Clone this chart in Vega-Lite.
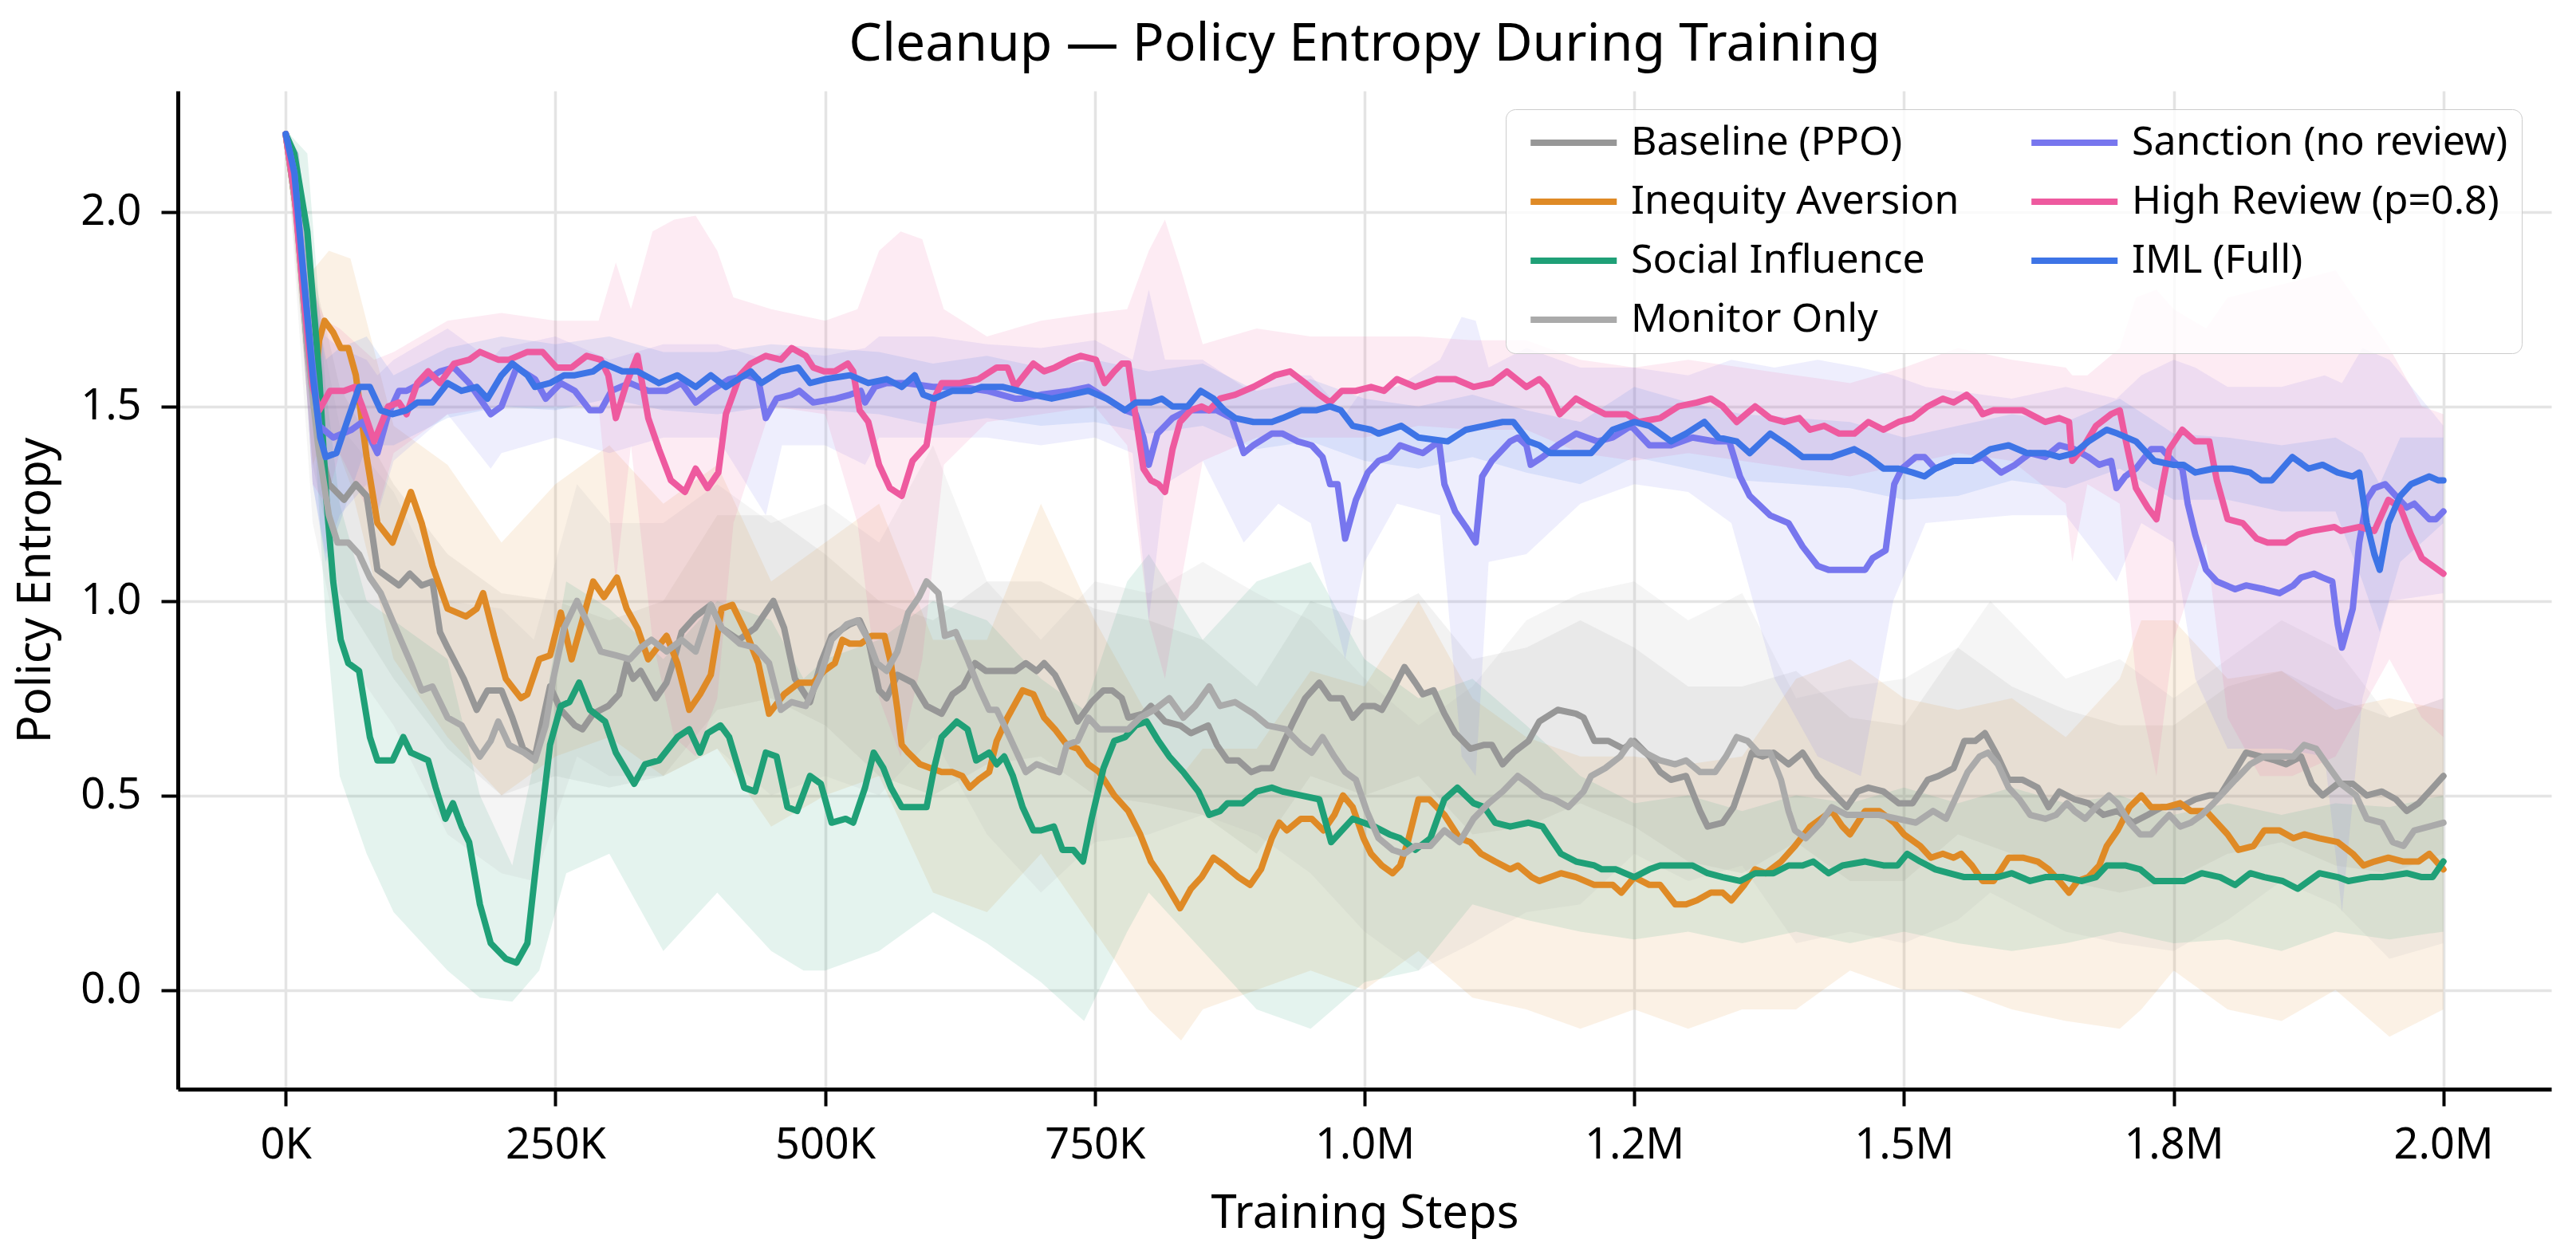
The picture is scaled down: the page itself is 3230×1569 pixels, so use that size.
{
  "$schema": "https://vega.github.io/schema/vega-lite/v6.json",
  "width": 2976,
  "height": 1252,
  "autosize": {"type": "none"},
  "padding": {"left": 223, "top": 114, "right": 31, "bottom": 203},
  "background": "white",
  "title": {"text": "Cleanup — Policy Entropy During Training", "font": "Noto Sans", "fontSize": 66, "fontWeight": "normal", "color": "black", "anchor": "middle", "frame": "group", "offset": 24},
  "config": {
    "font": "Noto Sans",
    "view": {"stroke": null},
    "axis": {
      "labelFont": "Noto Sans", "labelFontSize": 54, "labelColor": "black",
      "titleFont": "Noto Sans", "titleFontSize": 58, "titleFontWeight": "normal", "titleColor": "black",
      "domainColor": "black", "domainWidth": 5, "tickColor": "black", "tickWidth": 4, "tickSize": 21,
      "gridColor": "#e4e4e4", "gridWidth": 3.5
    },
    "legend": {
      "labelFont": "Noto Sans", "labelFontSize": 50, "labelColor": "black", "labelLimit": 0
    }
  },
  "datasets": {
    "lines": [
      {"s":"Baseline (PPO)","x":0,"y":2.2},{"s":"Baseline (PPO)","x":10,"y":2.0},{"s":"Baseline (PPO)","x":20,"y":1.65},{"s":"Baseline (PPO)","x":30,"y":1.42},{"s":"Baseline (PPO)","x":40,"y":1.3},{"s":"Baseline (PPO)","x":54,"y":1.26},{"s":"Baseline (PPO)","x":65,"y":1.3},{"s":"Baseline (PPO)","x":75,"y":1.27},{"s":"Baseline (PPO)","x":85,"y":1.08},{"s":"Baseline (PPO)","x":95,"y":1.06},{"s":"Baseline (PPO)","x":105,"y":1.04},{"s":"Baseline (PPO)","x":115,"y":1.07},{"s":"Baseline (PPO)","x":126,"y":1.04},{"s":"Baseline (PPO)","x":136,"y":1.05},{"s":"Baseline (PPO)","x":143,"y":0.92},{"s":"Baseline (PPO)","x":150,"y":0.88},{"s":"Baseline (PPO)","x":165,"y":0.8},{"s":"Baseline (PPO)","x":177,"y":0.72},{"s":"Baseline (PPO)","x":187,"y":0.77},{"s":"Baseline (PPO)","x":200,"y":0.77},{"s":"Baseline (PPO)","x":210,"y":0.7},{"s":"Baseline (PPO)","x":220,"y":0.62},{"s":"Baseline (PPO)","x":231,"y":0.6},{"s":"Baseline (PPO)","x":245,"y":0.78},{"s":"Baseline (PPO)","x":255,"y":0.72},{"s":"Baseline (PPO)","x":268,"y":0.68},{"s":"Baseline (PPO)","x":275,"y":0.67},{"s":"Baseline (PPO)","x":285,"y":0.71},{"s":"Baseline (PPO)","x":299,"y":0.73},{"s":"Baseline (PPO)","x":309,"y":0.76},{"s":"Baseline (PPO)","x":316,"y":0.84},{"s":"Baseline (PPO)","x":322,"y":0.8},{"s":"Baseline (PPO)","x":329,"y":0.82},{"s":"Baseline (PPO)","x":343,"y":0.75},{"s":"Baseline (PPO)","x":353,"y":0.79},{"s":"Baseline (PPO)","x":360,"y":0.85},{"s":"Baseline (PPO)","x":367,"y":0.92},{"s":"Baseline (PPO)","x":380,"y":0.96},{"s":"Baseline (PPO)","x":394,"y":0.99},{"s":"Baseline (PPO)","x":404,"y":0.93},{"s":"Baseline (PPO)","x":420,"y":0.9},{"s":"Baseline (PPO)","x":435,"y":0.93},{"s":"Baseline (PPO)","x":452,"y":1.0},{"s":"Baseline (PPO)","x":462,"y":0.93},{"s":"Baseline (PPO)","x":472,"y":0.8},{"s":"Baseline (PPO)","x":486,"y":0.74},{"s":"Baseline (PPO)","x":496,"y":0.84},{"s":"Baseline (PPO)","x":506,"y":0.91},{"s":"Baseline (PPO)","x":523,"y":0.94},{"s":"Baseline (PPO)","x":532,"y":0.95},{"s":"Baseline (PPO)","x":540,"y":0.9},{"s":"Baseline (PPO)","x":550,"y":0.77},{"s":"Baseline (PPO)","x":557,"y":0.75},{"s":"Baseline (PPO)","x":567,"y":0.81},{"s":"Baseline (PPO)","x":581,"y":0.79},{"s":"Baseline (PPO)","x":594,"y":0.73},{"s":"Baseline (PPO)","x":608,"y":0.71},{"s":"Baseline (PPO)","x":618,"y":0.76},{"s":"Baseline (PPO)","x":628,"y":0.78},{"s":"Baseline (PPO)","x":639,"y":0.84},{"s":"Baseline (PPO)","x":649,"y":0.82},{"s":"Baseline (PPO)","x":666,"y":0.82},{"s":"Baseline (PPO)","x":676,"y":0.82},{"s":"Baseline (PPO)","x":686,"y":0.84},{"s":"Baseline (PPO)","x":696,"y":0.82},{"s":"Baseline (PPO)","x":703,"y":0.84},{"s":"Baseline (PPO)","x":713,"y":0.81},{"s":"Baseline (PPO)","x":724,"y":0.75},{"s":"Baseline (PPO)","x":734,"y":0.69},{"s":"Baseline (PPO)","x":747,"y":0.74},{"s":"Baseline (PPO)","x":758,"y":0.77},{"s":"Baseline (PPO)","x":766,"y":0.77},{"s":"Baseline (PPO)","x":775,"y":0.75},{"s":"Baseline (PPO)","x":781,"y":0.7},{"s":"Baseline (PPO)","x":795,"y":0.71},{"s":"Baseline (PPO)","x":802,"y":0.73},{"s":"Baseline (PPO)","x":815,"y":0.69},{"s":"Baseline (PPO)","x":829,"y":0.68},{"s":"Baseline (PPO)","x":839,"y":0.66},{"s":"Baseline (PPO)","x":855,"y":0.68},{"s":"Baseline (PPO)","x":863,"y":0.63},{"s":"Baseline (PPO)","x":873,"y":0.59},{"s":"Baseline (PPO)","x":883,"y":0.59},{"s":"Baseline (PPO)","x":895,"y":0.56},{"s":"Baseline (PPO)","x":904,"y":0.57},{"s":"Baseline (PPO)","x":914,"y":0.57},{"s":"Baseline (PPO)","x":924,"y":0.63},{"s":"Baseline (PPO)","x":934,"y":0.69},{"s":"Baseline (PPO)","x":945,"y":0.75},{"s":"Baseline (PPO)","x":958,"y":0.79},{"s":"Baseline (PPO)","x":968,"y":0.75},{"s":"Baseline (PPO)","x":979,"y":0.75},{"s":"Baseline (PPO)","x":989,"y":0.7},{"s":"Baseline (PPO)","x":999,"y":0.73},{"s":"Baseline (PPO)","x":1009,"y":0.73},{"s":"Baseline (PPO)","x":1016,"y":0.72},{"s":"Baseline (PPO)","x":1026,"y":0.77},{"s":"Baseline (PPO)","x":1037,"y":0.83},{"s":"Baseline (PPO)","x":1047,"y":0.79},{"s":"Baseline (PPO)","x":1054,"y":0.76},{"s":"Baseline (PPO)","x":1064,"y":0.77},{"s":"Baseline (PPO)","x":1074,"y":0.71},{"s":"Baseline (PPO)","x":1084,"y":0.66},{"s":"Baseline (PPO)","x":1098,"y":0.62},{"s":"Baseline (PPO)","x":1111,"y":0.63},{"s":"Baseline (PPO)","x":1118,"y":0.63},{"s":"Baseline (PPO)","x":1128,"y":0.58},{"s":"Baseline (PPO)","x":1138,"y":0.61},{"s":"Baseline (PPO)","x":1152,"y":0.64},{"s":"Baseline (PPO)","x":1162,"y":0.69},{"s":"Baseline (PPO)","x":1179,"y":0.72},{"s":"Baseline (PPO)","x":1196,"y":0.71},{"s":"Baseline (PPO)","x":1203,"y":0.7},{"s":"Baseline (PPO)","x":1213,"y":0.64},{"s":"Baseline (PPO)","x":1226,"y":0.64},{"s":"Baseline (PPO)","x":1240,"y":0.62},{"s":"Baseline (PPO)","x":1250,"y":0.64},{"s":"Baseline (PPO)","x":1264,"y":0.6},{"s":"Baseline (PPO)","x":1274,"y":0.56},{"s":"Baseline (PPO)","x":1284,"y":0.54},{"s":"Baseline (PPO)","x":1298,"y":0.55},{"s":"Baseline (PPO)","x":1311,"y":0.46},{"s":"Baseline (PPO)","x":1318,"y":0.42},{"s":"Baseline (PPO)","x":1332,"y":0.43},{"s":"Baseline (PPO)","x":1342,"y":0.47},{"s":"Baseline (PPO)","x":1352,"y":0.55},{"s":"Baseline (PPO)","x":1359,"y":0.61},{"s":"Baseline (PPO)","x":1369,"y":0.6},{"s":"Baseline (PPO)","x":1379,"y":0.61},{"s":"Baseline (PPO)","x":1393,"y":0.58},{"s":"Baseline (PPO)","x":1406,"y":0.61},{"s":"Baseline (PPO)","x":1420,"y":0.55},{"s":"Baseline (PPO)","x":1433,"y":0.51},{"s":"Baseline (PPO)","x":1447,"y":0.47},{"s":"Baseline (PPO)","x":1457,"y":0.51},{"s":"Baseline (PPO)","x":1467,"y":0.52},{"s":"Baseline (PPO)","x":1481,"y":0.51},{"s":"Baseline (PPO)","x":1495,"y":0.48},{"s":"Baseline (PPO)","x":1508,"y":0.48},{"s":"Baseline (PPO)","x":1522,"y":0.54},{"s":"Baseline (PPO)","x":1532,"y":0.55},{"s":"Baseline (PPO)","x":1546,"y":0.57},{"s":"Baseline (PPO)","x":1556,"y":0.64},{"s":"Baseline (PPO)","x":1566,"y":0.64},{"s":"Baseline (PPO)","x":1575,"y":0.66},{"s":"Baseline (PPO)","x":1587,"y":0.6},{"s":"Baseline (PPO)","x":1597,"y":0.54},{"s":"Baseline (PPO)","x":1610,"y":0.54},{"s":"Baseline (PPO)","x":1624,"y":0.52},{"s":"Baseline (PPO)","x":1634,"y":0.47},{"s":"Baseline (PPO)","x":1644,"y":0.51},{"s":"Baseline (PPO)","x":1658,"y":0.49},{"s":"Baseline (PPO)","x":1671,"y":0.48},{"s":"Baseline (PPO)","x":1685,"y":0.45},{"s":"Baseline (PPO)","x":1698,"y":0.46},{"s":"Baseline (PPO)","x":1712,"y":0.43},{"s":"Baseline (PPO)","x":1726,"y":0.45},{"s":"Baseline (PPO)","x":1739,"y":0.47},{"s":"Baseline (PPO)","x":1756,"y":0.47},{"s":"Baseline (PPO)","x":1770,"y":0.49},{"s":"Baseline (PPO)","x":1783,"y":0.5},{"s":"Baseline (PPO)","x":1793,"y":0.5},{"s":"Baseline (PPO)","x":1804,"y":0.55},{"s":"Baseline (PPO)","x":1817,"y":0.61},{"s":"Baseline (PPO)","x":1831,"y":0.6},{"s":"Baseline (PPO)","x":1844,"y":0.59},{"s":"Baseline (PPO)","x":1854,"y":0.58},{"s":"Baseline (PPO)","x":1868,"y":0.6},{"s":"Baseline (PPO)","x":1878,"y":0.53},{"s":"Baseline (PPO)","x":1888,"y":0.5},{"s":"Baseline (PPO)","x":1902,"y":0.53},{"s":"Baseline (PPO)","x":1916,"y":0.53},{"s":"Baseline (PPO)","x":1929,"y":0.5},{"s":"Baseline (PPO)","x":1943,"y":0.51},{"s":"Baseline (PPO)","x":1956,"y":0.49},{"s":"Baseline (PPO)","x":1966,"y":0.46},{"s":"Baseline (PPO)","x":1977,"y":0.48},{"s":"Baseline (PPO)","x":1987,"y":0.51},{"s":"Baseline (PPO)","x":2000,"y":0.55},

      {"s":"Inequity Aversion","x":0,"y":2.2},{"s":"Inequity Aversion","x":10,"y":2.0},{"s":"Inequity Aversion","x":20,"y":1.7},{"s":"Inequity Aversion","x":27,"y":1.55},{"s":"Inequity Aversion","x":31,"y":1.67},{"s":"Inequity Aversion","x":36,"y":1.72},{"s":"Inequity Aversion","x":44,"y":1.69},{"s":"Inequity Aversion","x":51,"y":1.65},{"s":"Inequity Aversion","x":58,"y":1.65},{"s":"Inequity Aversion","x":65,"y":1.58},{"s":"Inequity Aversion","x":75,"y":1.37},{"s":"Inequity Aversion","x":85,"y":1.2},{"s":"Inequity Aversion","x":99,"y":1.15},{"s":"Inequity Aversion","x":116,"y":1.28},{"s":"Inequity Aversion","x":126,"y":1.2},{"s":"Inequity Aversion","x":136,"y":1.09},{"s":"Inequity Aversion","x":150,"y":0.98},{"s":"Inequity Aversion","x":167,"y":0.96},{"s":"Inequity Aversion","x":177,"y":0.98},{"s":"Inequity Aversion","x":183,"y":1.02},{"s":"Inequity Aversion","x":193,"y":0.91},{"s":"Inequity Aversion","x":204,"y":0.8},{"s":"Inequity Aversion","x":218,"y":0.75},{"s":"Inequity Aversion","x":224,"y":0.76},{"s":"Inequity Aversion","x":235,"y":0.85},{"s":"Inequity Aversion","x":245,"y":0.86},{"s":"Inequity Aversion","x":255,"y":0.97},{"s":"Inequity Aversion","x":265,"y":0.85},{"s":"Inequity Aversion","x":275,"y":0.95},{"s":"Inequity Aversion","x":285,"y":1.05},{"s":"Inequity Aversion","x":295,"y":1.01},{"s":"Inequity Aversion","x":307,"y":1.06},{"s":"Inequity Aversion","x":316,"y":0.98},{"s":"Inequity Aversion","x":326,"y":0.93},{"s":"Inequity Aversion","x":336,"y":0.85},{"s":"Inequity Aversion","x":353,"y":0.91},{"s":"Inequity Aversion","x":363,"y":0.84},{"s":"Inequity Aversion","x":374,"y":0.72},{"s":"Inequity Aversion","x":384,"y":0.76},{"s":"Inequity Aversion","x":394,"y":0.81},{"s":"Inequity Aversion","x":404,"y":0.98},{"s":"Inequity Aversion","x":414,"y":0.99},{"s":"Inequity Aversion","x":428,"y":0.91},{"s":"Inequity Aversion","x":438,"y":0.84},{"s":"Inequity Aversion","x":448,"y":0.71},{"s":"Inequity Aversion","x":462,"y":0.76},{"s":"Inequity Aversion","x":476,"y":0.79},{"s":"Inequity Aversion","x":489,"y":0.79},{"s":"Inequity Aversion","x":499,"y":0.82},{"s":"Inequity Aversion","x":509,"y":0.84},{"s":"Inequity Aversion","x":516,"y":0.9},{"s":"Inequity Aversion","x":523,"y":0.89},{"s":"Inequity Aversion","x":533,"y":0.89},{"s":"Inequity Aversion","x":543,"y":0.91},{"s":"Inequity Aversion","x":555,"y":0.91},{"s":"Inequity Aversion","x":561,"y":0.84},{"s":"Inequity Aversion","x":567,"y":0.72},{"s":"Inequity Aversion","x":571,"y":0.63},{"s":"Inequity Aversion","x":577,"y":0.61},{"s":"Inequity Aversion","x":588,"y":0.58},{"s":"Inequity Aversion","x":598,"y":0.57},{"s":"Inequity Aversion","x":608,"y":0.56},{"s":"Inequity Aversion","x":618,"y":0.56},{"s":"Inequity Aversion","x":627,"y":0.55},{"s":"Inequity Aversion","x":634,"y":0.52},{"s":"Inequity Aversion","x":642,"y":0.54},{"s":"Inequity Aversion","x":652,"y":0.56},{"s":"Inequity Aversion","x":659,"y":0.64},{"s":"Inequity Aversion","x":669,"y":0.7},{"s":"Inequity Aversion","x":683,"y":0.77},{"s":"Inequity Aversion","x":693,"y":0.76},{"s":"Inequity Aversion","x":703,"y":0.7},{"s":"Inequity Aversion","x":713,"y":0.67},{"s":"Inequity Aversion","x":724,"y":0.63},{"s":"Inequity Aversion","x":734,"y":0.62},{"s":"Inequity Aversion","x":744,"y":0.58},{"s":"Inequity Aversion","x":754,"y":0.56},{"s":"Inequity Aversion","x":768,"y":0.5},{"s":"Inequity Aversion","x":781,"y":0.46},{"s":"Inequity Aversion","x":792,"y":0.4},{"s":"Inequity Aversion","x":802,"y":0.33},{"s":"Inequity Aversion","x":812,"y":0.29},{"s":"Inequity Aversion","x":829,"y":0.21},{"s":"Inequity Aversion","x":839,"y":0.26},{"s":"Inequity Aversion","x":849,"y":0.29},{"s":"Inequity Aversion","x":860,"y":0.34},{"s":"Inequity Aversion","x":870,"y":0.32},{"s":"Inequity Aversion","x":883,"y":0.29},{"s":"Inequity Aversion","x":894,"y":0.27},{"s":"Inequity Aversion","x":904,"y":0.31},{"s":"Inequity Aversion","x":914,"y":0.39},{"s":"Inequity Aversion","x":921,"y":0.43},{"s":"Inequity Aversion","x":928,"y":0.41},{"s":"Inequity Aversion","x":941,"y":0.44},{"s":"Inequity Aversion","x":951,"y":0.44},{"s":"Inequity Aversion","x":962,"y":0.41},{"s":"Inequity Aversion","x":972,"y":0.45},{"s":"Inequity Aversion","x":980,"y":0.5},{"s":"Inequity Aversion","x":989,"y":0.47},{"s":"Inequity Aversion","x":999,"y":0.39},{"s":"Inequity Aversion","x":1006,"y":0.35},{"s":"Inequity Aversion","x":1016,"y":0.32},{"s":"Inequity Aversion","x":1026,"y":0.3},{"s":"Inequity Aversion","x":1033,"y":0.32},{"s":"Inequity Aversion","x":1040,"y":0.38},{"s":"Inequity Aversion","x":1050,"y":0.49},{"s":"Inequity Aversion","x":1060,"y":0.49},{"s":"Inequity Aversion","x":1074,"y":0.45},{"s":"Inequity Aversion","x":1088,"y":0.39},{"s":"Inequity Aversion","x":1098,"y":0.38},{"s":"Inequity Aversion","x":1108,"y":0.35},{"s":"Inequity Aversion","x":1121,"y":0.33},{"s":"Inequity Aversion","x":1135,"y":0.31},{"s":"Inequity Aversion","x":1142,"y":0.32},{"s":"Inequity Aversion","x":1155,"y":0.29},{"s":"Inequity Aversion","x":1162,"y":0.28},{"s":"Inequity Aversion","x":1182,"y":0.3},{"s":"Inequity Aversion","x":1196,"y":0.29},{"s":"Inequity Aversion","x":1213,"y":0.27},{"s":"Inequity Aversion","x":1230,"y":0.27},{"s":"Inequity Aversion","x":1238,"y":0.25},{"s":"Inequity Aversion","x":1250,"y":0.29},{"s":"Inequity Aversion","x":1264,"y":0.27},{"s":"Inequity Aversion","x":1274,"y":0.27},{"s":"Inequity Aversion","x":1288,"y":0.22},{"s":"Inequity Aversion","x":1298,"y":0.22},{"s":"Inequity Aversion","x":1308,"y":0.23},{"s":"Inequity Aversion","x":1321,"y":0.25},{"s":"Inequity Aversion","x":1332,"y":0.25},{"s":"Inequity Aversion","x":1340,"y":0.23},{"s":"Inequity Aversion","x":1352,"y":0.27},{"s":"Inequity Aversion","x":1362,"y":0.31},{"s":"Inequity Aversion","x":1372,"y":0.3},{"s":"Inequity Aversion","x":1386,"y":0.33},{"s":"Inequity Aversion","x":1399,"y":0.37},{"s":"Inequity Aversion","x":1413,"y":0.42},{"s":"Inequity Aversion","x":1433,"y":0.46},{"s":"Inequity Aversion","x":1443,"y":0.42},{"s":"Inequity Aversion","x":1450,"y":0.4},{"s":"Inequity Aversion","x":1464,"y":0.46},{"s":"Inequity Aversion","x":1477,"y":0.46},{"s":"Inequity Aversion","x":1491,"y":0.43},{"s":"Inequity Aversion","x":1500,"y":0.4},{"s":"Inequity Aversion","x":1515,"y":0.37},{"s":"Inequity Aversion","x":1525,"y":0.34},{"s":"Inequity Aversion","x":1536,"y":0.35},{"s":"Inequity Aversion","x":1546,"y":0.34},{"s":"Inequity Aversion","x":1553,"y":0.35},{"s":"Inequity Aversion","x":1563,"y":0.32},{"s":"Inequity Aversion","x":1573,"y":0.28},{"s":"Inequity Aversion","x":1583,"y":0.28},{"s":"Inequity Aversion","x":1590,"y":0.31},{"s":"Inequity Aversion","x":1597,"y":0.34},{"s":"Inequity Aversion","x":1610,"y":0.34},{"s":"Inequity Aversion","x":1624,"y":0.33},{"s":"Inequity Aversion","x":1634,"y":0.31},{"s":"Inequity Aversion","x":1644,"y":0.28},{"s":"Inequity Aversion","x":1653,"y":0.25},{"s":"Inequity Aversion","x":1661,"y":0.28},{"s":"Inequity Aversion","x":1671,"y":0.29},{"s":"Inequity Aversion","x":1681,"y":0.32},{"s":"Inequity Aversion","x":1688,"y":0.37},{"s":"Inequity Aversion","x":1698,"y":0.41},{"s":"Inequity Aversion","x":1709,"y":0.47},{"s":"Inequity Aversion","x":1720,"y":0.5},{"s":"Inequity Aversion","x":1729,"y":0.47},{"s":"Inequity Aversion","x":1743,"y":0.47},{"s":"Inequity Aversion","x":1756,"y":0.48},{"s":"Inequity Aversion","x":1766,"y":0.46},{"s":"Inequity Aversion","x":1780,"y":0.46},{"s":"Inequity Aversion","x":1790,"y":0.43},{"s":"Inequity Aversion","x":1800,"y":0.4},{"s":"Inequity Aversion","x":1810,"y":0.36},{"s":"Inequity Aversion","x":1824,"y":0.37},{"s":"Inequity Aversion","x":1834,"y":0.41},{"s":"Inequity Aversion","x":1848,"y":0.41},{"s":"Inequity Aversion","x":1861,"y":0.39},{"s":"Inequity Aversion","x":1871,"y":0.4},{"s":"Inequity Aversion","x":1885,"y":0.39},{"s":"Inequity Aversion","x":1902,"y":0.38},{"s":"Inequity Aversion","x":1916,"y":0.35},{"s":"Inequity Aversion","x":1926,"y":0.32},{"s":"Inequity Aversion","x":1936,"y":0.33},{"s":"Inequity Aversion","x":1949,"y":0.34},{"s":"Inequity Aversion","x":1963,"y":0.33},{"s":"Inequity Aversion","x":1977,"y":0.33},{"s":"Inequity Aversion","x":1987,"y":0.35},{"s":"Inequity Aversion","x":2000,"y":0.31},

      {"s":"Social Influence","x":0,"y":2.2},{"s":"Social Influence","x":8,"y":2.15},{"s":"Social Influence","x":20,"y":1.95},{"s":"Social Influence","x":31,"y":1.58},{"s":"Social Influence","x":38,"y":1.25},{"s":"Social Influence","x":44,"y":1.05},{"s":"Social Influence","x":51,"y":0.9},{"s":"Social Influence","x":58,"y":0.84},{"s":"Social Influence","x":68,"y":0.82},{"s":"Social Influence","x":78,"y":0.65},{"s":"Social Influence","x":85,"y":0.59},{"s":"Social Influence","x":99,"y":0.59},{"s":"Social Influence","x":109,"y":0.65},{"s":"Social Influence","x":116,"y":0.61},{"s":"Social Influence","x":132,"y":0.59},{"s":"Social Influence","x":139,"y":0.52},{"s":"Social Influence","x":148,"y":0.44},{"s":"Social Influence","x":155,"y":0.48},{"s":"Social Influence","x":163,"y":0.42},{"s":"Social Influence","x":170,"y":0.38},{"s":"Social Influence","x":180,"y":0.22},{"s":"Social Influence","x":190,"y":0.12},{"s":"Social Influence","x":204,"y":0.08},{"s":"Social Influence","x":214,"y":0.07},{"s":"Social Influence","x":224,"y":0.12},{"s":"Social Influence","x":234,"y":0.37},{"s":"Social Influence","x":245,"y":0.63},{"s":"Social Influence","x":255,"y":0.73},{"s":"Social Influence","x":263,"y":0.74},{"s":"Social Influence","x":272,"y":0.79},{"s":"Social Influence","x":282,"y":0.72},{"s":"Social Influence","x":296,"y":0.69},{"s":"Social Influence","x":306,"y":0.61},{"s":"Social Influence","x":323,"y":0.53},{"s":"Social Influence","x":333,"y":0.58},{"s":"Social Influence","x":346,"y":0.59},{"s":"Social Influence","x":363,"y":0.65},{"s":"Social Influence","x":374,"y":0.67},{"s":"Social Influence","x":384,"y":0.61},{"s":"Social Influence","x":391,"y":0.66},{"s":"Social Influence","x":403,"y":0.68},{"s":"Social Influence","x":411,"y":0.65},{"s":"Social Influence","x":425,"y":0.52},{"s":"Social Influence","x":435,"y":0.51},{"s":"Social Influence","x":445,"y":0.61},{"s":"Social Influence","x":455,"y":0.6},{"s":"Social Influence","x":465,"y":0.47},{"s":"Social Influence","x":474,"y":0.46},{"s":"Social Influence","x":486,"y":0.55},{"s":"Social Influence","x":496,"y":0.53},{"s":"Social Influence","x":506,"y":0.43},{"s":"Social Influence","x":519,"y":0.44},{"s":"Social Influence","x":526,"y":0.43},{"s":"Social Influence","x":537,"y":0.52},{"s":"Social Influence","x":545,"y":0.61},{"s":"Social Influence","x":554,"y":0.57},{"s":"Social Influence","x":561,"y":0.52},{"s":"Social Influence","x":571,"y":0.47},{"s":"Social Influence","x":581,"y":0.47},{"s":"Social Influence","x":594,"y":0.47},{"s":"Social Influence","x":601,"y":0.57},{"s":"Social Influence","x":608,"y":0.65},{"s":"Social Influence","x":615,"y":0.67},{"s":"Social Influence","x":622,"y":0.69},{"s":"Social Influence","x":632,"y":0.67},{"s":"Social Influence","x":640,"y":0.59},{"s":"Social Influence","x":652,"y":0.61},{"s":"Social Influence","x":659,"y":0.58},{"s":"Social Influence","x":666,"y":0.6},{"s":"Social Influence","x":674,"y":0.55},{"s":"Social Influence","x":683,"y":0.47},{"s":"Social Influence","x":693,"y":0.41},{"s":"Social Influence","x":700,"y":0.41},{"s":"Social Influence","x":712,"y":0.42},{"s":"Social Influence","x":720,"y":0.36},{"s":"Social Influence","x":730,"y":0.36},{"s":"Social Influence","x":739,"y":0.33},{"s":"Social Influence","x":747,"y":0.44},{"s":"Social Influence","x":758,"y":0.57},{"s":"Social Influence","x":768,"y":0.64},{"s":"Social Influence","x":778,"y":0.65},{"s":"Social Influence","x":788,"y":0.68},{"s":"Social Influence","x":798,"y":0.69},{"s":"Social Influence","x":809,"y":0.64},{"s":"Social Influence","x":819,"y":0.6},{"s":"Social Influence","x":832,"y":0.56},{"s":"Social Influence","x":846,"y":0.51},{"s":"Social Influence","x":856,"y":0.45},{"s":"Social Influence","x":866,"y":0.46},{"s":"Social Influence","x":873,"y":0.48},{"s":"Social Influence","x":887,"y":0.48},{"s":"Social Influence","x":900,"y":0.51},{"s":"Social Influence","x":914,"y":0.52},{"s":"Social Influence","x":924,"y":0.51},{"s":"Social Influence","x":941,"y":0.5},{"s":"Social Influence","x":958,"y":0.49},{"s":"Social Influence","x":969,"y":0.38},{"s":"Social Influence","x":979,"y":0.41},{"s":"Social Influence","x":989,"y":0.44},{"s":"Social Influence","x":999,"y":0.43},{"s":"Social Influence","x":1009,"y":0.42},{"s":"Social Influence","x":1023,"y":0.4},{"s":"Social Influence","x":1033,"y":0.39},{"s":"Social Influence","x":1047,"y":0.36},{"s":"Social Influence","x":1061,"y":0.39},{"s":"Social Influence","x":1074,"y":0.49},{"s":"Social Influence","x":1086,"y":0.52},{"s":"Social Influence","x":1101,"y":0.48},{"s":"Social Influence","x":1111,"y":0.47},{"s":"Social Influence","x":1121,"y":0.43},{"s":"Social Influence","x":1135,"y":0.42},{"s":"Social Influence","x":1152,"y":0.43},{"s":"Social Influence","x":1165,"y":0.42},{"s":"Social Influence","x":1182,"y":0.35},{"s":"Social Influence","x":1196,"y":0.33},{"s":"Social Influence","x":1213,"y":0.32},{"s":"Social Influence","x":1220,"y":0.31},{"s":"Social Influence","x":1233,"y":0.31},{"s":"Social Influence","x":1250,"y":0.29},{"s":"Social Influence","x":1264,"y":0.31},{"s":"Social Influence","x":1274,"y":0.32},{"s":"Social Influence","x":1291,"y":0.32},{"s":"Social Influence","x":1304,"y":0.32},{"s":"Social Influence","x":1318,"y":0.3},{"s":"Social Influence","x":1332,"y":0.29},{"s":"Social Influence","x":1348,"y":0.28},{"s":"Social Influence","x":1362,"y":0.3},{"s":"Social Influence","x":1379,"y":0.3},{"s":"Social Influence","x":1393,"y":0.32},{"s":"Social Influence","x":1406,"y":0.32},{"s":"Social Influence","x":1416,"y":0.33},{"s":"Social Influence","x":1430,"y":0.3},{"s":"Social Influence","x":1443,"y":0.32},{"s":"Social Influence","x":1464,"y":0.33},{"s":"Social Influence","x":1481,"y":0.32},{"s":"Social Influence","x":1494,"y":0.32},{"s":"Social Influence","x":1503,"y":0.35},{"s":"Social Influence","x":1515,"y":0.33},{"s":"Social Influence","x":1529,"y":0.31},{"s":"Social Influence","x":1542,"y":0.3},{"s":"Social Influence","x":1556,"y":0.29},{"s":"Social Influence","x":1573,"y":0.29},{"s":"Social Influence","x":1587,"y":0.29},{"s":"Social Influence","x":1600,"y":0.3},{"s":"Social Influence","x":1617,"y":0.28},{"s":"Social Influence","x":1631,"y":0.29},{"s":"Social Influence","x":1648,"y":0.29},{"s":"Social Influence","x":1665,"y":0.28},{"s":"Social Influence","x":1678,"y":0.29},{"s":"Social Influence","x":1688,"y":0.32},{"s":"Social Influence","x":1705,"y":0.32},{"s":"Social Influence","x":1719,"y":0.31},{"s":"Social Influence","x":1732,"y":0.28},{"s":"Social Influence","x":1746,"y":0.28},{"s":"Social Influence","x":1760,"y":0.28},{"s":"Social Influence","x":1776,"y":0.3},{"s":"Social Influence","x":1793,"y":0.29},{"s":"Social Influence","x":1807,"y":0.27},{"s":"Social Influence","x":1821,"y":0.3},{"s":"Social Influence","x":1834,"y":0.29},{"s":"Social Influence","x":1851,"y":0.28},{"s":"Social Influence","x":1865,"y":0.26},{"s":"Social Influence","x":1885,"y":0.3},{"s":"Social Influence","x":1902,"y":0.29},{"s":"Social Influence","x":1912,"y":0.28},{"s":"Social Influence","x":1932,"y":0.29},{"s":"Social Influence","x":1943,"y":0.29},{"s":"Social Influence","x":1966,"y":0.3},{"s":"Social Influence","x":1980,"y":0.29},{"s":"Social Influence","x":1990,"y":0.29},{"s":"Social Influence","x":2000,"y":0.33},

      {"s":"Monitor Only","x":0,"y":2.2},{"s":"Monitor Only","x":10,"y":2.0},{"s":"Monitor Only","x":20,"y":1.65},{"s":"Monitor Only","x":30,"y":1.4},{"s":"Monitor Only","x":40,"y":1.22},{"s":"Monitor Only","x":48,"y":1.15},{"s":"Monitor Only","x":58,"y":1.15},{"s":"Monitor Only","x":68,"y":1.12},{"s":"Monitor Only","x":78,"y":1.06},{"s":"Monitor Only","x":88,"y":1.02},{"s":"Monitor Only","x":105,"y":0.91},{"s":"Monitor Only","x":116,"y":0.84},{"s":"Monitor Only","x":126,"y":0.77},{"s":"Monitor Only","x":136,"y":0.78},{"s":"Monitor Only","x":150,"y":0.7},{"s":"Monitor Only","x":163,"y":0.68},{"s":"Monitor Only","x":173,"y":0.63},{"s":"Monitor Only","x":180,"y":0.6},{"s":"Monitor Only","x":190,"y":0.64},{"s":"Monitor Only","x":197,"y":0.69},{"s":"Monitor Only","x":207,"y":0.63},{"s":"Monitor Only","x":221,"y":0.61},{"s":"Monitor Only","x":231,"y":0.59},{"s":"Monitor Only","x":241,"y":0.68},{"s":"Monitor Only","x":248,"y":0.8},{"s":"Monitor Only","x":258,"y":0.93},{"s":"Monitor Only","x":270,"y":1.0},{"s":"Monitor Only","x":282,"y":0.93},{"s":"Monitor Only","x":292,"y":0.87},{"s":"Monitor Only","x":306,"y":0.86},{"s":"Monitor Only","x":319,"y":0.85},{"s":"Monitor Only","x":329,"y":0.88},{"s":"Monitor Only","x":339,"y":0.9},{"s":"Monitor Only","x":353,"y":0.87},{"s":"Monitor Only","x":367,"y":0.9},{"s":"Monitor Only","x":380,"y":0.87},{"s":"Monitor Only","x":394,"y":0.99},{"s":"Monitor Only","x":404,"y":0.93},{"s":"Monitor Only","x":421,"y":0.89},{"s":"Monitor Only","x":435,"y":0.88},{"s":"Monitor Only","x":448,"y":0.84},{"s":"Monitor Only","x":459,"y":0.72},{"s":"Monitor Only","x":469,"y":0.74},{"s":"Monitor Only","x":482,"y":0.73},{"s":"Monitor Only","x":496,"y":0.81},{"s":"Monitor Only","x":506,"y":0.9},{"s":"Monitor Only","x":520,"y":0.94},{"s":"Monitor Only","x":530,"y":0.95},{"s":"Monitor Only","x":540,"y":0.9},{"s":"Monitor Only","x":548,"y":0.84},{"s":"Monitor Only","x":557,"y":0.82},{"s":"Monitor Only","x":567,"y":0.87},{"s":"Monitor Only","x":577,"y":0.97},{"s":"Monitor Only","x":587,"y":1.01},{"s":"Monitor Only","x":594,"y":1.05},{"s":"Monitor Only","x":605,"y":1.02},{"s":"Monitor Only","x":611,"y":0.91},{"s":"Monitor Only","x":621,"y":0.92},{"s":"Monitor Only","x":632,"y":0.85},{"s":"Monitor Only","x":642,"y":0.78},{"s":"Monitor Only","x":652,"y":0.72},{"s":"Monitor Only","x":659,"y":0.72},{"s":"Monitor Only","x":666,"y":0.68},{"s":"Monitor Only","x":676,"y":0.62},{"s":"Monitor Only","x":686,"y":0.56},{"s":"Monitor Only","x":696,"y":0.58},{"s":"Monitor Only","x":706,"y":0.57},{"s":"Monitor Only","x":717,"y":0.56},{"s":"Monitor Only","x":724,"y":0.63},{"s":"Monitor Only","x":734,"y":0.64},{"s":"Monitor Only","x":744,"y":0.7},{"s":"Monitor Only","x":754,"y":0.67},{"s":"Monitor Only","x":768,"y":0.67},{"s":"Monitor Only","x":781,"y":0.67},{"s":"Monitor Only","x":792,"y":0.7},{"s":"Monitor Only","x":805,"y":0.72},{"s":"Monitor Only","x":819,"y":0.75},{"s":"Monitor Only","x":832,"y":0.7},{"s":"Monitor Only","x":843,"y":0.73},{"s":"Monitor Only","x":856,"y":0.78},{"s":"Monitor Only","x":866,"y":0.73},{"s":"Monitor Only","x":880,"y":0.74},{"s":"Monitor Only","x":897,"y":0.71},{"s":"Monitor Only","x":910,"y":0.68},{"s":"Monitor Only","x":927,"y":0.67},{"s":"Monitor Only","x":941,"y":0.63},{"s":"Monitor Only","x":951,"y":0.61},{"s":"Monitor Only","x":961,"y":0.65},{"s":"Monitor Only","x":972,"y":0.6},{"s":"Monitor Only","x":982,"y":0.56},{"s":"Monitor Only","x":992,"y":0.54},{"s":"Monitor Only","x":1002,"y":0.46},{"s":"Monitor Only","x":1013,"y":0.39},{"s":"Monitor Only","x":1026,"y":0.36},{"s":"Monitor Only","x":1037,"y":0.35},{"s":"Monitor Only","x":1047,"y":0.37},{"s":"Monitor Only","x":1061,"y":0.37},{"s":"Monitor Only","x":1074,"y":0.41},{"s":"Monitor Only","x":1088,"y":0.38},{"s":"Monitor Only","x":1101,"y":0.44},{"s":"Monitor Only","x":1115,"y":0.48},{"s":"Monitor Only","x":1128,"y":0.51},{"s":"Monitor Only","x":1142,"y":0.55},{"s":"Monitor Only","x":1152,"y":0.53},{"s":"Monitor Only","x":1165,"y":0.5},{"s":"Monitor Only","x":1176,"y":0.49},{"s":"Monitor Only","x":1189,"y":0.47},{"s":"Monitor Only","x":1203,"y":0.51},{"s":"Monitor Only","x":1210,"y":0.55},{"s":"Monitor Only","x":1223,"y":0.57},{"s":"Monitor Only","x":1237,"y":0.6},{"s":"Monitor Only","x":1247,"y":0.64},{"s":"Monitor Only","x":1260,"y":0.61},{"s":"Monitor Only","x":1274,"y":0.59},{"s":"Monitor Only","x":1288,"y":0.58},{"s":"Monitor Only","x":1298,"y":0.59},{"s":"Monitor Only","x":1311,"y":0.56},{"s":"Monitor Only","x":1325,"y":0.56},{"s":"Monitor Only","x":1335,"y":0.6},{"s":"Monitor Only","x":1345,"y":0.65},{"s":"Monitor Only","x":1355,"y":0.64},{"s":"Monitor Only","x":1365,"y":0.61},{"s":"Monitor Only","x":1376,"y":0.61},{"s":"Monitor Only","x":1386,"y":0.54},{"s":"Monitor Only","x":1393,"y":0.46},{"s":"Monitor Only","x":1399,"y":0.41},{"s":"Monitor Only","x":1409,"y":0.39},{"s":"Monitor Only","x":1423,"y":0.43},{"s":"Monitor Only","x":1433,"y":0.47},{"s":"Monitor Only","x":1447,"y":0.45},{"s":"Monitor Only","x":1464,"y":0.45},{"s":"Monitor Only","x":1477,"y":0.45},{"s":"Monitor Only","x":1494,"y":0.44},{"s":"Monitor Only","x":1511,"y":0.43},{"s":"Monitor Only","x":1527,"y":0.46},{"s":"Monitor Only","x":1539,"y":0.44},{"s":"Monitor Only","x":1549,"y":0.5},{"s":"Monitor Only","x":1559,"y":0.56},{"s":"Monitor Only","x":1570,"y":0.6},{"s":"Monitor Only","x":1578,"y":0.61},{"s":"Monitor Only","x":1587,"y":0.58},{"s":"Monitor Only","x":1597,"y":0.52},{"s":"Monitor Only","x":1607,"y":0.49},{"s":"Monitor Only","x":1617,"y":0.45},{"s":"Monitor Only","x":1631,"y":0.44},{"s":"Monitor Only","x":1641,"y":0.45},{"s":"Monitor Only","x":1651,"y":0.48},{"s":"Monitor Only","x":1658,"y":0.46},{"s":"Monitor Only","x":1668,"y":0.44},{"s":"Monitor Only","x":1678,"y":0.47},{"s":"Monitor Only","x":1690,"y":0.5},{"s":"Monitor Only","x":1698,"y":0.48},{"s":"Monitor Only","x":1709,"y":0.43},{"s":"Monitor Only","x":1719,"y":0.4},{"s":"Monitor Only","x":1729,"y":0.4},{"s":"Monitor Only","x":1739,"y":0.43},{"s":"Monitor Only","x":1746,"y":0.45},{"s":"Monitor Only","x":1756,"y":0.42},{"s":"Monitor Only","x":1766,"y":0.43},{"s":"Monitor Only","x":1776,"y":0.45},{"s":"Monitor Only","x":1787,"y":0.48},{"s":"Monitor Only","x":1797,"y":0.51},{"s":"Monitor Only","x":1807,"y":0.54},{"s":"Monitor Only","x":1821,"y":0.58},{"s":"Monitor Only","x":1834,"y":0.6},{"s":"Monitor Only","x":1848,"y":0.6},{"s":"Monitor Only","x":1861,"y":0.6},{"s":"Monitor Only","x":1871,"y":0.63},{"s":"Monitor Only","x":1882,"y":0.62},{"s":"Monitor Only","x":1892,"y":0.58},{"s":"Monitor Only","x":1905,"y":0.53},{"s":"Monitor Only","x":1919,"y":0.5},{"s":"Monitor Only","x":1929,"y":0.44},{"s":"Monitor Only","x":1943,"y":0.43},{"s":"Monitor Only","x":1953,"y":0.38},{"s":"Monitor Only","x":1963,"y":0.37},{"s":"Monitor Only","x":1973,"y":0.41},{"s":"Monitor Only","x":1987,"y":0.42},{"s":"Monitor Only","x":2000,"y":0.43},

      {"s":"Sanction (no review)","x":0,"y":2.2},{"s":"Sanction (no review)","x":8,"y":2.1},{"s":"Sanction (no review)","x":16,"y":1.85},{"s":"Sanction (no review)","x":25,"y":1.6},{"s":"Sanction (no review)","x":31,"y":1.45},{"s":"Sanction (no review)","x":44,"y":1.42},{"s":"Sanction (no review)","x":61,"y":1.44},{"s":"Sanction (no review)","x":71,"y":1.46},{"s":"Sanction (no review)","x":85,"y":1.38},{"s":"Sanction (no review)","x":95,"y":1.48},{"s":"Sanction (no review)","x":105,"y":1.54},{"s":"Sanction (no review)","x":112,"y":1.54},{"s":"Sanction (no review)","x":126,"y":1.56},{"s":"Sanction (no review)","x":143,"y":1.59},{"s":"Sanction (no review)","x":156,"y":1.6},{"s":"Sanction (no review)","x":170,"y":1.56},{"s":"Sanction (no review)","x":190,"y":1.48},{"s":"Sanction (no review)","x":200,"y":1.5},{"s":"Sanction (no review)","x":214,"y":1.6},{"s":"Sanction (no review)","x":231,"y":1.57},{"s":"Sanction (no review)","x":241,"y":1.52},{"s":"Sanction (no review)","x":255,"y":1.56},{"s":"Sanction (no review)","x":268,"y":1.54},{"s":"Sanction (no review)","x":282,"y":1.49},{"s":"Sanction (no review)","x":292,"y":1.49},{"s":"Sanction (no review)","x":302,"y":1.54},{"s":"Sanction (no review)","x":319,"y":1.56},{"s":"Sanction (no review)","x":336,"y":1.54},{"s":"Sanction (no review)","x":353,"y":1.54},{"s":"Sanction (no review)","x":367,"y":1.56},{"s":"Sanction (no review)","x":380,"y":1.51},{"s":"Sanction (no review)","x":394,"y":1.54},{"s":"Sanction (no review)","x":411,"y":1.57},{"s":"Sanction (no review)","x":428,"y":1.58},{"s":"Sanction (no review)","x":438,"y":1.57},{"s":"Sanction (no review)","x":445,"y":1.47},{"s":"Sanction (no review)","x":455,"y":1.52},{"s":"Sanction (no review)","x":469,"y":1.53},{"s":"Sanction (no review)","x":476,"y":1.54},{"s":"Sanction (no review)","x":489,"y":1.51},{"s":"Sanction (no review)","x":510,"y":1.52},{"s":"Sanction (no review)","x":523,"y":1.53},{"s":"Sanction (no review)","x":533,"y":1.54},{"s":"Sanction (no review)","x":537,"y":1.51},{"s":"Sanction (no review)","x":546,"y":1.55},{"s":"Sanction (no review)","x":557,"y":1.56},{"s":"Sanction (no review)","x":575,"y":1.56},{"s":"Sanction (no review)","x":600,"y":1.55},{"s":"Sanction (no review)","x":625,"y":1.55},{"s":"Sanction (no review)","x":650,"y":1.54},{"s":"Sanction (no review)","x":676,"y":1.52},{"s":"Sanction (no review)","x":683,"y":1.52},{"s":"Sanction (no review)","x":700,"y":1.53},{"s":"Sanction (no review)","x":727,"y":1.54},{"s":"Sanction (no review)","x":744,"y":1.55},{"s":"Sanction (no review)","x":761,"y":1.52},{"s":"Sanction (no review)","x":778,"y":1.49},{"s":"Sanction (no review)","x":788,"y":1.48},{"s":"Sanction (no review)","x":795,"y":1.42},{"s":"Sanction (no review)","x":800,"y":1.35},{"s":"Sanction (no review)","x":808,"y":1.43},{"s":"Sanction (no review)","x":822,"y":1.47},{"s":"Sanction (no review)","x":836,"y":1.49},{"s":"Sanction (no review)","x":850,"y":1.49},{"s":"Sanction (no review)","x":863,"y":1.49},{"s":"Sanction (no review)","x":877,"y":1.47},{"s":"Sanction (no review)","x":888,"y":1.38},{"s":"Sanction (no review)","x":897,"y":1.4},{"s":"Sanction (no review)","x":914,"y":1.43},{"s":"Sanction (no review)","x":924,"y":1.43},{"s":"Sanction (no review)","x":938,"y":1.41},{"s":"Sanction (no review)","x":951,"y":1.4},{"s":"Sanction (no review)","x":961,"y":1.37},{"s":"Sanction (no review)","x":968,"y":1.3},{"s":"Sanction (no review)","x":975,"y":1.3},{"s":"Sanction (no review)","x":982,"y":1.16},{"s":"Sanction (no review)","x":992,"y":1.26},{"s":"Sanction (no review)","x":1003,"y":1.33},{"s":"Sanction (no review)","x":1013,"y":1.36},{"s":"Sanction (no review)","x":1023,"y":1.37},{"s":"Sanction (no review)","x":1033,"y":1.4},{"s":"Sanction (no review)","x":1043,"y":1.39},{"s":"Sanction (no review)","x":1054,"y":1.38},{"s":"Sanction (no review)","x":1069,"y":1.41},{"s":"Sanction (no review)","x":1074,"y":1.3},{"s":"Sanction (no review)","x":1084,"y":1.23},{"s":"Sanction (no review)","x":1094,"y":1.19},{"s":"Sanction (no review)","x":1103,"y":1.15},{"s":"Sanction (no review)","x":1109,"y":1.32},{"s":"Sanction (no review)","x":1118,"y":1.36},{"s":"Sanction (no review)","x":1135,"y":1.41},{"s":"Sanction (no review)","x":1142,"y":1.42},{"s":"Sanction (no review)","x":1150,"y":1.4},{"s":"Sanction (no review)","x":1154,"y":1.35},{"s":"Sanction (no review)","x":1165,"y":1.37},{"s":"Sanction (no review)","x":1179,"y":1.4},{"s":"Sanction (no review)","x":1196,"y":1.43},{"s":"Sanction (no review)","x":1206,"y":1.42},{"s":"Sanction (no review)","x":1216,"y":1.41},{"s":"Sanction (no review)","x":1230,"y":1.42},{"s":"Sanction (no review)","x":1247,"y":1.45},{"s":"Sanction (no review)","x":1264,"y":1.4},{"s":"Sanction (no review)","x":1284,"y":1.4},{"s":"Sanction (no review)","x":1304,"y":1.42},{"s":"Sanction (no review)","x":1325,"y":1.41},{"s":"Sanction (no review)","x":1338,"y":1.41},{"s":"Sanction (no review)","x":1348,"y":1.32},{"s":"Sanction (no review)","x":1357,"y":1.27},{"s":"Sanction (no review)","x":1376,"y":1.22},{"s":"Sanction (no review)","x":1393,"y":1.2},{"s":"Sanction (no review)","x":1406,"y":1.14},{"s":"Sanction (no review)","x":1420,"y":1.09},{"s":"Sanction (no review)","x":1430,"y":1.08},{"s":"Sanction (no review)","x":1447,"y":1.08},{"s":"Sanction (no review)","x":1464,"y":1.08},{"s":"Sanction (no review)","x":1471,"y":1.11},{"s":"Sanction (no review)","x":1483,"y":1.13},{"s":"Sanction (no review)","x":1491,"y":1.3},{"s":"Sanction (no review)","x":1498,"y":1.34},{"s":"Sanction (no review)","x":1511,"y":1.37},{"s":"Sanction (no review)","x":1519,"y":1.37},{"s":"Sanction (no review)","x":1529,"y":1.34},{"s":"Sanction (no review)","x":1546,"y":1.36},{"s":"Sanction (no review)","x":1563,"y":1.36},{"s":"Sanction (no review)","x":1573,"y":1.37},{"s":"Sanction (no review)","x":1590,"y":1.33},{"s":"Sanction (no review)","x":1603,"y":1.35},{"s":"Sanction (no review)","x":1617,"y":1.38},{"s":"Sanction (no review)","x":1631,"y":1.37},{"s":"Sanction (no review)","x":1644,"y":1.4},{"s":"Sanction (no review)","x":1658,"y":1.39},{"s":"Sanction (no review)","x":1671,"y":1.37},{"s":"Sanction (no review)","x":1681,"y":1.35},{"s":"Sanction (no review)","x":1692,"y":1.36},{"s":"Sanction (no review)","x":1697,"y":1.29},{"s":"Sanction (no review)","x":1705,"y":1.32},{"s":"Sanction (no review)","x":1715,"y":1.34},{"s":"Sanction (no review)","x":1729,"y":1.39},{"s":"Sanction (no review)","x":1739,"y":1.39},{"s":"Sanction (no review)","x":1749,"y":1.36},{"s":"Sanction (no review)","x":1758,"y":1.34},{"s":"Sanction (no review)","x":1763,"y":1.25},{"s":"Sanction (no review)","x":1770,"y":1.17},{"s":"Sanction (no review)","x":1780,"y":1.08},{"s":"Sanction (no review)","x":1790,"y":1.05},{"s":"Sanction (no review)","x":1807,"y":1.03},{"s":"Sanction (no review)","x":1817,"y":1.04},{"s":"Sanction (no review)","x":1834,"y":1.03},{"s":"Sanction (no review)","x":1848,"y":1.02},{"s":"Sanction (no review)","x":1861,"y":1.04},{"s":"Sanction (no review)","x":1868,"y":1.06},{"s":"Sanction (no review)","x":1880,"y":1.07},{"s":"Sanction (no review)","x":1888,"y":1.06},{"s":"Sanction (no review)","x":1897,"y":1.05},{"s":"Sanction (no review)","x":1902,"y":0.94},{"s":"Sanction (no review)","x":1906,"y":0.88},{"s":"Sanction (no review)","x":1916,"y":0.98},{"s":"Sanction (no review)","x":1922,"y":1.15},{"s":"Sanction (no review)","x":1929,"y":1.26},{"s":"Sanction (no review)","x":1936,"y":1.29},{"s":"Sanction (no review)","x":1946,"y":1.3},{"s":"Sanction (no review)","x":1956,"y":1.27},{"s":"Sanction (no review)","x":1966,"y":1.24},{"s":"Sanction (no review)","x":1973,"y":1.25},{"s":"Sanction (no review)","x":1987,"y":1.21},{"s":"Sanction (no review)","x":1993,"y":1.21},{"s":"Sanction (no review)","x":2000,"y":1.23},

      {"s":"High Review (p=0.8)","x":0,"y":2.2},{"s":"High Review (p=0.8)","x":8,"y":2.05},{"s":"High Review (p=0.8)","x":16,"y":1.8},{"s":"High Review (p=0.8)","x":25,"y":1.55},{"s":"High Review (p=0.8)","x":31,"y":1.49},{"s":"High Review (p=0.8)","x":41,"y":1.54},{"s":"High Review (p=0.8)","x":54,"y":1.54},{"s":"High Review (p=0.8)","x":64,"y":1.55},{"s":"High Review (p=0.8)","x":71,"y":1.5},{"s":"High Review (p=0.8)","x":82,"y":1.41},{"s":"High Review (p=0.8)","x":95,"y":1.5},{"s":"High Review (p=0.8)","x":105,"y":1.51},{"s":"High Review (p=0.8)","x":112,"y":1.48},{"s":"High Review (p=0.8)","x":122,"y":1.56},{"s":"High Review (p=0.8)","x":132,"y":1.59},{"s":"High Review (p=0.8)","x":143,"y":1.56},{"s":"High Review (p=0.8)","x":156,"y":1.61},{"s":"High Review (p=0.8)","x":170,"y":1.62},{"s":"High Review (p=0.8)","x":180,"y":1.64},{"s":"High Review (p=0.8)","x":197,"y":1.62},{"s":"High Review (p=0.8)","x":207,"y":1.62},{"s":"High Review (p=0.8)","x":224,"y":1.64},{"s":"High Review (p=0.8)","x":238,"y":1.64},{"s":"High Review (p=0.8)","x":251,"y":1.6},{"s":"High Review (p=0.8)","x":265,"y":1.6},{"s":"High Review (p=0.8)","x":279,"y":1.63},{"s":"High Review (p=0.8)","x":292,"y":1.62},{"s":"High Review (p=0.8)","x":299,"y":1.58},{"s":"High Review (p=0.8)","x":306,"y":1.47},{"s":"High Review (p=0.8)","x":316,"y":1.56},{"s":"High Review (p=0.8)","x":326,"y":1.63},{"s":"High Review (p=0.8)","x":336,"y":1.47},{"s":"High Review (p=0.8)","x":346,"y":1.39},{"s":"High Review (p=0.8)","x":357,"y":1.31},{"s":"High Review (p=0.8)","x":370,"y":1.28},{"s":"High Review (p=0.8)","x":380,"y":1.34},{"s":"High Review (p=0.8)","x":391,"y":1.29},{"s":"High Review (p=0.8)","x":401,"y":1.33},{"s":"High Review (p=0.8)","x":408,"y":1.48},{"s":"High Review (p=0.8)","x":421,"y":1.58},{"s":"High Review (p=0.8)","x":431,"y":1.61},{"s":"High Review (p=0.8)","x":445,"y":1.63},{"s":"High Review (p=0.8)","x":459,"y":1.62},{"s":"High Review (p=0.8)","x":469,"y":1.65},{"s":"High Review (p=0.8)","x":482,"y":1.63},{"s":"High Review (p=0.8)","x":489,"y":1.6},{"s":"High Review (p=0.8)","x":499,"y":1.59},{"s":"High Review (p=0.8)","x":509,"y":1.59},{"s":"High Review (p=0.8)","x":521,"y":1.61},{"s":"High Review (p=0.8)","x":526,"y":1.59},{"s":"High Review (p=0.8)","x":532,"y":1.49},{"s":"High Review (p=0.8)","x":540,"y":1.46},{"s":"High Review (p=0.8)","x":550,"y":1.35},{"s":"High Review (p=0.8)","x":560,"y":1.29},{"s":"High Review (p=0.8)","x":571,"y":1.27},{"s":"High Review (p=0.8)","x":581,"y":1.36},{"s":"High Review (p=0.8)","x":594,"y":1.4},{"s":"High Review (p=0.8)","x":601,"y":1.52},{"s":"High Review (p=0.8)","x":608,"y":1.56},{"s":"High Review (p=0.8)","x":625,"y":1.56},{"s":"High Review (p=0.8)","x":642,"y":1.57},{"s":"High Review (p=0.8)","x":659,"y":1.6},{"s":"High Review (p=0.8)","x":669,"y":1.6},{"s":"High Review (p=0.8)","x":676,"y":1.55},{"s":"High Review (p=0.8)","x":693,"y":1.61},{"s":"High Review (p=0.8)","x":703,"y":1.59},{"s":"High Review (p=0.8)","x":713,"y":1.6},{"s":"High Review (p=0.8)","x":727,"y":1.62},{"s":"High Review (p=0.8)","x":737,"y":1.63},{"s":"High Review (p=0.8)","x":751,"y":1.62},{"s":"High Review (p=0.8)","x":759,"y":1.56},{"s":"High Review (p=0.8)","x":768,"y":1.59},{"s":"High Review (p=0.8)","x":775,"y":1.61},{"s":"High Review (p=0.8)","x":781,"y":1.61},{"s":"High Review (p=0.8)","x":788,"y":1.47},{"s":"High Review (p=0.8)","x":795,"y":1.34},{"s":"High Review (p=0.8)","x":802,"y":1.31},{"s":"High Review (p=0.8)","x":809,"y":1.3},{"s":"High Review (p=0.8)","x":815,"y":1.28},{"s":"High Review (p=0.8)","x":822,"y":1.39},{"s":"High Review (p=0.8)","x":829,"y":1.46},{"s":"High Review (p=0.8)","x":839,"y":1.49},{"s":"High Review (p=0.8)","x":849,"y":1.5},{"s":"High Review (p=0.8)","x":856,"y":1.49},{"s":"High Review (p=0.8)","x":866,"y":1.52},{"s":"High Review (p=0.8)","x":880,"y":1.53},{"s":"High Review (p=0.8)","x":897,"y":1.55},{"s":"High Review (p=0.8)","x":917,"y":1.58},{"s":"High Review (p=0.8)","x":931,"y":1.59},{"s":"High Review (p=0.8)","x":945,"y":1.56},{"s":"High Review (p=0.8)","x":958,"y":1.53},{"s":"High Review (p=0.8)","x":968,"y":1.51},{"s":"High Review (p=0.8)","x":979,"y":1.54},{"s":"High Review (p=0.8)","x":992,"y":1.54},{"s":"High Review (p=0.8)","x":1006,"y":1.55},{"s":"High Review (p=0.8)","x":1018,"y":1.54},{"s":"High Review (p=0.8)","x":1030,"y":1.57},{"s":"High Review (p=0.8)","x":1047,"y":1.55},{"s":"High Review (p=0.8)","x":1067,"y":1.57},{"s":"High Review (p=0.8)","x":1084,"y":1.57},{"s":"High Review (p=0.8)","x":1101,"y":1.55},{"s":"High Review (p=0.8)","x":1118,"y":1.56},{"s":"High Review (p=0.8)","x":1132,"y":1.59},{"s":"High Review (p=0.8)","x":1150,"y":1.55},{"s":"High Review (p=0.8)","x":1162,"y":1.57},{"s":"High Review (p=0.8)","x":1169,"y":1.55},{"s":"High Review (p=0.8)","x":1181,"y":1.48},{"s":"High Review (p=0.8)","x":1196,"y":1.52},{"s":"High Review (p=0.8)","x":1209,"y":1.5},{"s":"High Review (p=0.8)","x":1223,"y":1.48},{"s":"High Review (p=0.8)","x":1243,"y":1.48},{"s":"High Review (p=0.8)","x":1254,"y":1.46},{"s":"High Review (p=0.8)","x":1274,"y":1.47},{"s":"High Review (p=0.8)","x":1291,"y":1.5},{"s":"High Review (p=0.8)","x":1308,"y":1.51},{"s":"High Review (p=0.8)","x":1321,"y":1.52},{"s":"High Review (p=0.8)","x":1332,"y":1.5},{"s":"High Review (p=0.8)","x":1345,"y":1.46},{"s":"High Review (p=0.8)","x":1362,"y":1.5},{"s":"High Review (p=0.8)","x":1376,"y":1.47},{"s":"High Review (p=0.8)","x":1389,"y":1.46},{"s":"High Review (p=0.8)","x":1403,"y":1.47},{"s":"High Review (p=0.8)","x":1413,"y":1.44},{"s":"High Review (p=0.8)","x":1426,"y":1.45},{"s":"High Review (p=0.8)","x":1440,"y":1.43},{"s":"High Review (p=0.8)","x":1454,"y":1.43},{"s":"High Review (p=0.8)","x":1467,"y":1.46},{"s":"High Review (p=0.8)","x":1481,"y":1.44},{"s":"High Review (p=0.8)","x":1495,"y":1.46},{"s":"High Review (p=0.8)","x":1508,"y":1.47},{"s":"High Review (p=0.8)","x":1522,"y":1.5},{"s":"High Review (p=0.8)","x":1536,"y":1.52},{"s":"High Review (p=0.8)","x":1546,"y":1.51},{"s":"High Review (p=0.8)","x":1558,"y":1.53},{"s":"High Review (p=0.8)","x":1566,"y":1.51},{"s":"High Review (p=0.8)","x":1573,"y":1.48},{"s":"High Review (p=0.8)","x":1583,"y":1.49},{"s":"High Review (p=0.8)","x":1597,"y":1.49},{"s":"High Review (p=0.8)","x":1610,"y":1.49},{"s":"High Review (p=0.8)","x":1624,"y":1.47},{"s":"High Review (p=0.8)","x":1631,"y":1.46},{"s":"High Review (p=0.8)","x":1644,"y":1.47},{"s":"High Review (p=0.8)","x":1653,"y":1.46},{"s":"High Review (p=0.8)","x":1656,"y":1.36},{"s":"High Review (p=0.8)","x":1665,"y":1.39},{"s":"High Review (p=0.8)","x":1678,"y":1.45},{"s":"High Review (p=0.8)","x":1692,"y":1.48},{"s":"High Review (p=0.8)","x":1700,"y":1.49},{"s":"High Review (p=0.8)","x":1705,"y":1.42},{"s":"High Review (p=0.8)","x":1715,"y":1.29},{"s":"High Review (p=0.8)","x":1726,"y":1.24},{"s":"High Review (p=0.8)","x":1734,"y":1.21},{"s":"High Review (p=0.8)","x":1739,"y":1.29},{"s":"High Review (p=0.8)","x":1746,"y":1.39},{"s":"High Review (p=0.8)","x":1758,"y":1.44},{"s":"High Review (p=0.8)","x":1770,"y":1.41},{"s":"High Review (p=0.8)","x":1783,"y":1.41},{"s":"High Review (p=0.8)","x":1790,"y":1.31},{"s":"High Review (p=0.8)","x":1800,"y":1.21},{"s":"High Review (p=0.8)","x":1814,"y":1.2},{"s":"High Review (p=0.8)","x":1827,"y":1.16},{"s":"High Review (p=0.8)","x":1837,"y":1.15},{"s":"High Review (p=0.8)","x":1848,"y":1.15},{"s":"High Review (p=0.8)","x":1854,"y":1.15},{"s":"High Review (p=0.8)","x":1865,"y":1.17},{"s":"High Review (p=0.8)","x":1878,"y":1.18},{"s":"High Review (p=0.8)","x":1899,"y":1.19},{"s":"High Review (p=0.8)","x":1905,"y":1.18},{"s":"High Review (p=0.8)","x":1922,"y":1.19},{"s":"High Review (p=0.8)","x":1936,"y":1.18},{"s":"High Review (p=0.8)","x":1949,"y":1.26},{"s":"High Review (p=0.8)","x":1960,"y":1.24},{"s":"High Review (p=0.8)","x":1970,"y":1.17},{"s":"High Review (p=0.8)","x":1980,"y":1.11},{"s":"High Review (p=0.8)","x":1990,"y":1.09},{"s":"High Review (p=0.8)","x":2000,"y":1.07},

      {"s":"IML (Full)","x":0,"y":2.2},{"s":"IML (Full)","x":8,"y":2.1},{"s":"IML (Full)","x":16,"y":1.85},{"s":"IML (Full)","x":25,"y":1.58},{"s":"IML (Full)","x":32,"y":1.42},{"s":"IML (Full)","x":37,"y":1.37},{"s":"IML (Full)","x":47,"y":1.38},{"s":"IML (Full)","x":58,"y":1.47},{"s":"IML (Full)","x":68,"y":1.55},{"s":"IML (Full)","x":78,"y":1.55},{"s":"IML (Full)","x":88,"y":1.49},{"s":"IML (Full)","x":99,"y":1.48},{"s":"IML (Full)","x":112,"y":1.49},{"s":"IML (Full)","x":122,"y":1.51},{"s":"IML (Full)","x":136,"y":1.51},{"s":"IML (Full)","x":150,"y":1.56},{"s":"IML (Full)","x":163,"y":1.54},{"s":"IML (Full)","x":177,"y":1.55},{"s":"IML (Full)","x":187,"y":1.52},{"s":"IML (Full)","x":200,"y":1.58},{"s":"IML (Full)","x":210,"y":1.61},{"s":"IML (Full)","x":224,"y":1.58},{"s":"IML (Full)","x":231,"y":1.55},{"s":"IML (Full)","x":245,"y":1.56},{"s":"IML (Full)","x":258,"y":1.58},{"s":"IML (Full)","x":268,"y":1.58},{"s":"IML (Full)","x":285,"y":1.59},{"s":"IML (Full)","x":295,"y":1.61},{"s":"IML (Full)","x":312,"y":1.59},{"s":"IML (Full)","x":326,"y":1.59},{"s":"IML (Full)","x":346,"y":1.56},{"s":"IML (Full)","x":363,"y":1.58},{"s":"IML (Full)","x":380,"y":1.55},{"s":"IML (Full)","x":394,"y":1.58},{"s":"IML (Full)","x":408,"y":1.55},{"s":"IML (Full)","x":431,"y":1.59},{"s":"IML (Full)","x":441,"y":1.56},{"s":"IML (Full)","x":458,"y":1.59},{"s":"IML (Full)","x":475,"y":1.6},{"s":"IML (Full)","x":486,"y":1.56},{"s":"IML (Full)","x":500,"y":1.57},{"s":"IML (Full)","x":523,"y":1.58},{"s":"IML (Full)","x":540,"y":1.56},{"s":"IML (Full)","x":557,"y":1.57},{"s":"IML (Full)","x":571,"y":1.55},{"s":"IML (Full)","x":583,"y":1.58},{"s":"IML (Full)","x":591,"y":1.53},{"s":"IML (Full)","x":601,"y":1.52},{"s":"IML (Full)","x":618,"y":1.54},{"s":"IML (Full)","x":635,"y":1.54},{"s":"IML (Full)","x":645,"y":1.55},{"s":"IML (Full)","x":665,"y":1.55},{"s":"IML (Full)","x":679,"y":1.54},{"s":"IML (Full)","x":693,"y":1.53},{"s":"IML (Full)","x":710,"y":1.52},{"s":"IML (Full)","x":727,"y":1.53},{"s":"IML (Full)","x":744,"y":1.54},{"s":"IML (Full)","x":761,"y":1.52},{"s":"IML (Full)","x":778,"y":1.49},{"s":"IML (Full)","x":788,"y":1.51},{"s":"IML (Full)","x":802,"y":1.51},{"s":"IML (Full)","x":812,"y":1.52},{"s":"IML (Full)","x":822,"y":1.5},{"s":"IML (Full)","x":836,"y":1.5},{"s":"IML (Full)","x":848,"y":1.54},{"s":"IML (Full)","x":860,"y":1.52},{"s":"IML (Full)","x":870,"y":1.49},{"s":"IML (Full)","x":880,"y":1.47},{"s":"IML (Full)","x":897,"y":1.46},{"s":"IML (Full)","x":914,"y":1.46},{"s":"IML (Full)","x":924,"y":1.47},{"s":"IML (Full)","x":941,"y":1.49},{"s":"IML (Full)","x":955,"y":1.49},{"s":"IML (Full)","x":968,"y":1.5},{"s":"IML (Full)","x":978,"y":1.49},{"s":"IML (Full)","x":989,"y":1.45},{"s":"IML (Full)","x":1006,"y":1.44},{"s":"IML (Full)","x":1013,"y":1.43},{"s":"IML (Full)","x":1034,"y":1.45},{"s":"IML (Full)","x":1050,"y":1.42},{"s":"IML (Full)","x":1077,"y":1.41},{"s":"IML (Full)","x":1094,"y":1.44},{"s":"IML (Full)","x":1111,"y":1.45},{"s":"IML (Full)","x":1128,"y":1.46},{"s":"IML (Full)","x":1138,"y":1.46},{"s":"IML (Full)","x":1152,"y":1.41},{"s":"IML (Full)","x":1162,"y":1.4},{"s":"IML (Full)","x":1172,"y":1.38},{"s":"IML (Full)","x":1186,"y":1.38},{"s":"IML (Full)","x":1196,"y":1.38},{"s":"IML (Full)","x":1210,"y":1.38},{"s":"IML (Full)","x":1230,"y":1.44},{"s":"IML (Full)","x":1250,"y":1.46},{"s":"IML (Full)","x":1264,"y":1.45},{"s":"IML (Full)","x":1284,"y":1.41},{"s":"IML (Full)","x":1298,"y":1.43},{"s":"IML (Full)","x":1315,"y":1.46},{"s":"IML (Full)","x":1328,"y":1.42},{"s":"IML (Full)","x":1345,"y":1.41},{"s":"IML (Full)","x":1357,"y":1.38},{"s":"IML (Full)","x":1376,"y":1.43},{"s":"IML (Full)","x":1392,"y":1.4},{"s":"IML (Full)","x":1406,"y":1.37},{"s":"IML (Full)","x":1420,"y":1.37},{"s":"IML (Full)","x":1433,"y":1.37},{"s":"IML (Full)","x":1454,"y":1.39},{"s":"IML (Full)","x":1467,"y":1.37},{"s":"IML (Full)","x":1481,"y":1.34},{"s":"IML (Full)","x":1495,"y":1.34},{"s":"IML (Full)","x":1508,"y":1.33},{"s":"IML (Full)","x":1519,"y":1.32},{"s":"IML (Full)","x":1529,"y":1.34},{"s":"IML (Full)","x":1546,"y":1.36},{"s":"IML (Full)","x":1563,"y":1.36},{"s":"IML (Full)","x":1580,"y":1.39},{"s":"IML (Full)","x":1597,"y":1.4},{"s":"IML (Full)","x":1614,"y":1.38},{"s":"IML (Full)","x":1631,"y":1.38},{"s":"IML (Full)","x":1644,"y":1.37},{"s":"IML (Full)","x":1658,"y":1.38},{"s":"IML (Full)","x":1671,"y":1.41},{"s":"IML (Full)","x":1688,"y":1.44},{"s":"IML (Full)","x":1698,"y":1.43},{"s":"IML (Full)","x":1715,"y":1.41},{"s":"IML (Full)","x":1732,"y":1.36},{"s":"IML (Full)","x":1749,"y":1.35},{"s":"IML (Full)","x":1759,"y":1.35},{"s":"IML (Full)","x":1770,"y":1.33},{"s":"IML (Full)","x":1787,"y":1.34},{"s":"IML (Full)","x":1804,"y":1.34},{"s":"IML (Full)","x":1821,"y":1.33},{"s":"IML (Full)","x":1831,"y":1.31},{"s":"IML (Full)","x":1841,"y":1.31},{"s":"IML (Full)","x":1860,"y":1.37},{"s":"IML (Full)","x":1875,"y":1.34},{"s":"IML (Full)","x":1888,"y":1.35},{"s":"IML (Full)","x":1902,"y":1.33},{"s":"IML (Full)","x":1916,"y":1.32},{"s":"IML (Full)","x":1922,"y":1.33},{"s":"IML (Full)","x":1929,"y":1.2},{"s":"IML (Full)","x":1936,"y":1.12},{"s":"IML (Full)","x":1941,"y":1.08},{"s":"IML (Full)","x":1949,"y":1.2},{"s":"IML (Full)","x":1960,"y":1.27},{"s":"IML (Full)","x":1970,"y":1.3},{"s":"IML (Full)","x":1987,"y":1.32},{"s":"IML (Full)","x":1995,"y":1.31},{"s":"IML (Full)","x":2000,"y":1.31}
    ],
    "bands": [
      {"s":"Baseline (PPO)","x":0,"lo":2.19,"hi":2.21},{"s":"Baseline (PPO)","x":25,"lo":1.35,"hi":1.85},{"s":"Baseline (PPO)","x":50,"lo":1.02,"hi":1.55},{"s":"Baseline (PPO)","x":100,"lo":0.8,"hi":1.3},{"s":"Baseline (PPO)","x":150,"lo":0.62,"hi":1.12},{"s":"Baseline (PPO)","x":200,"lo":0.5,"hi":1.02},{"s":"Baseline (PPO)","x":250,"lo":0.55,"hi":1.0},{"s":"Baseline (PPO)","x":300,"lo":0.52,"hi":0.95},{"s":"Baseline (PPO)","x":350,"lo":0.55,"hi":1.0},{"s":"Baseline (PPO)","x":400,"lo":0.72,"hi":1.22},{"s":"Baseline (PPO)","x":450,"lo":0.75,"hi":1.22},{"s":"Baseline (PPO)","x":500,"lo":0.68,"hi":1.12},{"s":"Baseline (PPO)","x":550,"lo":0.55,"hi":1.0},{"s":"Baseline (PPO)","x":600,"lo":0.5,"hi":0.95},{"s":"Baseline (PPO)","x":650,"lo":0.58,"hi":1.05},{"s":"Baseline (PPO)","x":700,"lo":0.6,"hi":1.05},{"s":"Baseline (PPO)","x":750,"lo":0.5,"hi":0.98},{"s":"Baseline (PPO)","x":800,"lo":0.48,"hi":0.95},{"s":"Baseline (PPO)","x":850,"lo":0.45,"hi":0.9},{"s":"Baseline (PPO)","x":900,"lo":0.35,"hi":0.78},{"s":"Baseline (PPO)","x":950,"lo":0.55,"hi":1.0},{"s":"Baseline (PPO)","x":1000,"lo":0.5,"hi":0.95},{"s":"Baseline (PPO)","x":1050,"lo":0.55,"hi":1.02},{"s":"Baseline (PPO)","x":1100,"lo":0.4,"hi":0.85},{"s":"Baseline (PPO)","x":1150,"lo":0.42,"hi":0.88},{"s":"Baseline (PPO)","x":1200,"lo":0.48,"hi":0.95},{"s":"Baseline (PPO)","x":1250,"lo":0.42,"hi":0.88},{"s":"Baseline (PPO)","x":1300,"lo":0.33,"hi":0.78},{"s":"Baseline (PPO)","x":1350,"lo":0.3,"hi":0.78},{"s":"Baseline (PPO)","x":1400,"lo":0.38,"hi":0.82},{"s":"Baseline (PPO)","x":1450,"lo":0.28,"hi":0.7},{"s":"Baseline (PPO)","x":1500,"lo":0.28,"hi":0.68},{"s":"Baseline (PPO)","x":1550,"lo":0.4,"hi":0.88},{"s":"Baseline (PPO)","x":1600,"lo":0.35,"hi":0.78},{"s":"Baseline (PPO)","x":1650,"lo":0.28,"hi":0.72},{"s":"Baseline (PPO)","x":1700,"lo":0.25,"hi":0.68},{"s":"Baseline (PPO)","x":1750,"lo":0.28,"hi":0.68},{"s":"Baseline (PPO)","x":1800,"lo":0.35,"hi":0.78},{"s":"Baseline (PPO)","x":1850,"lo":0.38,"hi":0.82},{"s":"Baseline (PPO)","x":1900,"lo":0.32,"hi":0.75},{"s":"Baseline (PPO)","x":1950,"lo":0.3,"hi":0.7},{"s":"Baseline (PPO)","x":2000,"lo":0.35,"hi":0.75},

      {"s":"Inequity Aversion","x":0,"lo":2.19,"hi":2.21},{"s":"Inequity Aversion","x":25,"lo":1.35,"hi":1.85},{"s":"Inequity Aversion","x":40,"lo":1.45,"hi":1.9},{"s":"Inequity Aversion","x":60,"lo":1.3,"hi":1.88},{"s":"Inequity Aversion","x":100,"lo":0.85,"hi":1.45},{"s":"Inequity Aversion","x":150,"lo":0.65,"hi":1.35},{"s":"Inequity Aversion","x":200,"lo":0.5,"hi":1.15},{"s":"Inequity Aversion","x":250,"lo":0.6,"hi":1.3},{"s":"Inequity Aversion","x":300,"lo":0.65,"hi":1.4},{"s":"Inequity Aversion","x":350,"lo":0.55,"hi":1.25},{"s":"Inequity Aversion","x":400,"lo":0.62,"hi":1.35},{"s":"Inequity Aversion","x":450,"lo":0.42,"hi":1.05},{"s":"Inequity Aversion","x":500,"lo":0.5,"hi":1.15},{"s":"Inequity Aversion","x":550,"lo":0.55,"hi":1.25},{"s":"Inequity Aversion","x":600,"lo":0.25,"hi":0.9},{"s":"Inequity Aversion","x":650,"lo":0.2,"hi":0.9},{"s":"Inequity Aversion","x":700,"lo":0.35,"hi":1.25},{"s":"Inequity Aversion","x":750,"lo":0.15,"hi":0.95},{"s":"Inequity Aversion","x":800,"lo":-0.05,"hi":0.7},{"s":"Inequity Aversion","x":830,"lo":-0.13,"hi":0.55},{"s":"Inequity Aversion","x":850,"lo":-0.05,"hi":0.62},{"s":"Inequity Aversion","x":900,"lo":0.0,"hi":0.62},{"s":"Inequity Aversion","x":950,"lo":0.05,"hi":0.82},{"s":"Inequity Aversion","x":1000,"lo":0.0,"hi":0.78},{"s":"Inequity Aversion","x":1050,"lo":0.1,"hi":1.0},{"s":"Inequity Aversion","x":1100,"lo":-0.02,"hi":0.75},{"s":"Inequity Aversion","x":1150,"lo":-0.05,"hi":0.65},{"s":"Inequity Aversion","x":1200,"lo":-0.1,"hi":0.6},{"s":"Inequity Aversion","x":1250,"lo":-0.05,"hi":0.6},{"s":"Inequity Aversion","x":1300,"lo":-0.1,"hi":0.58},{"s":"Inequity Aversion","x":1350,"lo":-0.05,"hi":0.6},{"s":"Inequity Aversion","x":1400,"lo":-0.05,"hi":0.8},{"s":"Inequity Aversion","x":1450,"lo":0.05,"hi":0.85},{"s":"Inequity Aversion","x":1500,"lo":0.0,"hi":0.75},{"s":"Inequity Aversion","x":1550,"lo":0.0,"hi":0.72},{"s":"Inequity Aversion","x":1600,"lo":-0.05,"hi":0.75},{"s":"Inequity Aversion","x":1650,"lo":-0.08,"hi":0.65},{"s":"Inequity Aversion","x":1700,"lo":-0.1,"hi":0.8},{"s":"Inequity Aversion","x":1720,"lo":-0.05,"hi":0.95},{"s":"Inequity Aversion","x":1750,"lo":0.05,"hi":0.95},{"s":"Inequity Aversion","x":1800,"lo":-0.05,"hi":0.8},{"s":"Inequity Aversion","x":1850,"lo":-0.08,"hi":0.82},{"s":"Inequity Aversion","x":1900,"lo":0.0,"hi":0.72},{"s":"Inequity Aversion","x":1950,"lo":-0.12,"hi":0.75},{"s":"Inequity Aversion","x":2000,"lo":-0.05,"hi":0.72},

      {"s":"Social Influence","x":0,"lo":2.19,"hi":2.21},{"s":"Social Influence","x":20,"lo":1.75,"hi":2.15},{"s":"Social Influence","x":37,"lo":0.95,"hi":1.55},{"s":"Social Influence","x":50,"lo":0.55,"hi":1.25},{"s":"Social Influence","x":75,"lo":0.35,"hi":1.0},{"s":"Social Influence","x":100,"lo":0.2,"hi":0.95},{"s":"Social Influence","x":150,"lo":0.05,"hi":0.85},{"s":"Social Influence","x":180,"lo":-0.02,"hi":0.5},{"s":"Social Influence","x":210,"lo":-0.03,"hi":0.32},{"s":"Social Influence","x":235,"lo":0.05,"hi":0.65},{"s":"Social Influence","x":260,"lo":0.3,"hi":1.05},{"s":"Social Influence","x":300,"lo":0.35,"hi":0.98},{"s":"Social Influence","x":350,"lo":0.1,"hi":0.85},{"s":"Social Influence","x":400,"lo":0.25,"hi":1.0},{"s":"Social Influence","x":450,"lo":0.1,"hi":0.95},{"s":"Social Influence","x":480,"lo":0.05,"hi":0.8},{"s":"Social Influence","x":500,"lo":0.05,"hi":0.85},{"s":"Social Influence","x":550,"lo":0.1,"hi":0.9},{"s":"Social Influence","x":600,"lo":0.2,"hi":1.0},{"s":"Social Influence","x":650,"lo":0.12,"hi":0.95},{"s":"Social Influence","x":700,"lo":0.02,"hi":0.8},{"s":"Social Influence","x":740,"lo":-0.08,"hi":0.72},{"s":"Social Influence","x":780,"lo":0.15,"hi":1.05},{"s":"Social Influence","x":800,"lo":0.25,"hi":1.12},{"s":"Social Influence","x":850,"lo":0.1,"hi":0.9},{"s":"Social Influence","x":900,"lo":-0.05,"hi":1.05},{"s":"Social Influence","x":950,"lo":-0.1,"hi":1.1},{"s":"Social Influence","x":1000,"lo":0.02,"hi":0.85},{"s":"Social Influence","x":1050,"lo":0.05,"hi":0.75},{"s":"Social Influence","x":1100,"lo":0.22,"hi":0.8},{"s":"Social Influence","x":1150,"lo":0.18,"hi":0.68},{"s":"Social Influence","x":1200,"lo":0.15,"hi":0.55},{"s":"Social Influence","x":1250,"lo":0.13,"hi":0.48},{"s":"Social Influence","x":1300,"lo":0.15,"hi":0.5},{"s":"Social Influence","x":1350,"lo":0.12,"hi":0.46},{"s":"Social Influence","x":1400,"lo":0.15,"hi":0.5},{"s":"Social Influence","x":1450,"lo":0.12,"hi":0.48},{"s":"Social Influence","x":1500,"lo":0.15,"hi":0.52},{"s":"Social Influence","x":1550,"lo":0.12,"hi":0.48},{"s":"Social Influence","x":1600,"lo":0.1,"hi":0.52},{"s":"Social Influence","x":1650,"lo":0.12,"hi":0.48},{"s":"Social Influence","x":1700,"lo":0.15,"hi":0.5},{"s":"Social Influence","x":1750,"lo":0.12,"hi":0.45},{"s":"Social Influence","x":1800,"lo":0.13,"hi":0.48},{"s":"Social Influence","x":1850,"lo":0.1,"hi":0.45},{"s":"Social Influence","x":1900,"lo":0.15,"hi":0.48},{"s":"Social Influence","x":1950,"lo":0.13,"hi":0.47},{"s":"Social Influence","x":2000,"lo":0.15,"hi":0.5},

      {"s":"Monitor Only","x":0,"lo":2.19,"hi":2.21},{"s":"Monitor Only","x":25,"lo":1.2,"hi":1.8},{"s":"Monitor Only","x":50,"lo":0.88,"hi":1.45},{"s":"Monitor Only","x":100,"lo":0.68,"hi":1.28},{"s":"Monitor Only","x":150,"lo":0.4,"hi":1.0},{"s":"Monitor Only","x":200,"lo":0.3,"hi":0.98},{"s":"Monitor Only","x":230,"lo":0.28,"hi":0.9},{"s":"Monitor Only","x":270,"lo":0.6,"hi":1.3},{"s":"Monitor Only","x":300,"lo":0.55,"hi":1.2},{"s":"Monitor Only","x":350,"lo":0.55,"hi":1.2},{"s":"Monitor Only","x":400,"lo":0.62,"hi":1.3},{"s":"Monitor Only","x":450,"lo":0.5,"hi":1.2},{"s":"Monitor Only","x":500,"lo":0.55,"hi":1.25},{"s":"Monitor Only","x":550,"lo":0.5,"hi":1.15},{"s":"Monitor Only","x":600,"lo":0.65,"hi":1.4},{"s":"Monitor Only","x":650,"lo":0.4,"hi":1.05},{"s":"Monitor Only","x":700,"lo":0.25,"hi":0.9},{"s":"Monitor Only","x":750,"lo":0.38,"hi":1.05},{"s":"Monitor Only","x":800,"lo":0.4,"hi":1.02},{"s":"Monitor Only","x":850,"lo":0.45,"hi":1.1},{"s":"Monitor Only","x":900,"lo":0.4,"hi":1.02},{"s":"Monitor Only","x":950,"lo":0.3,"hi":0.95},{"s":"Monitor Only","x":1000,"lo":0.15,"hi":0.8},{"s":"Monitor Only","x":1050,"lo":0.05,"hi":0.68},{"s":"Monitor Only","x":1100,"lo":0.12,"hi":0.78},{"s":"Monitor Only","x":1150,"lo":0.2,"hi":0.95},{"s":"Monitor Only","x":1200,"lo":0.22,"hi":1.02},{"s":"Monitor Only","x":1250,"lo":0.35,"hi":1.05},{"s":"Monitor Only","x":1300,"lo":0.28,"hi":0.95},{"s":"Monitor Only","x":1350,"lo":0.32,"hi":1.02},{"s":"Monitor Only","x":1400,"lo":0.12,"hi":0.75},{"s":"Monitor Only","x":1450,"lo":0.15,"hi":0.78},{"s":"Monitor Only","x":1500,"lo":0.12,"hi":0.8},{"s":"Monitor Only","x":1550,"lo":0.18,"hi":0.88},{"s":"Monitor Only","x":1580,"lo":0.25,"hi":1.0},{"s":"Monitor Only","x":1650,"lo":0.15,"hi":0.8},{"s":"Monitor Only","x":1700,"lo":0.12,"hi":0.85},{"s":"Monitor Only","x":1750,"lo":0.1,"hi":0.75},{"s":"Monitor Only","x":1800,"lo":0.18,"hi":0.85},{"s":"Monitor Only","x":1850,"lo":0.28,"hi":0.95},{"s":"Monitor Only","x":1900,"lo":0.22,"hi":0.88},{"s":"Monitor Only","x":1950,"lo":0.08,"hi":0.7},{"s":"Monitor Only","x":2000,"lo":0.12,"hi":0.75},

      {"s":"Sanction (no review)","x":0,"lo":2.19,"hi":2.21},{"s":"Sanction (no review)","x":12,"lo":1.85,"hi":2.15},{"s":"Sanction (no review)","x":25,"lo":1.3,"hi":1.82},{"s":"Sanction (no review)","x":37,"lo":1.12,"hi":1.68},{"s":"Sanction (no review)","x":50,"lo":1.22,"hi":1.65},{"s":"Sanction (no review)","x":75,"lo":1.3,"hi":1.62},{"s":"Sanction (no review)","x":85,"lo":1.22,"hi":1.58},{"s":"Sanction (no review)","x":100,"lo":1.36,"hi":1.62},{"s":"Sanction (no review)","x":150,"lo":1.48,"hi":1.7},{"s":"Sanction (no review)","x":190,"lo":1.34,"hi":1.62},{"s":"Sanction (no review)","x":200,"lo":1.38,"hi":1.65},{"s":"Sanction (no review)","x":250,"lo":1.42,"hi":1.68},{"s":"Sanction (no review)","x":300,"lo":1.38,"hi":1.62},{"s":"Sanction (no review)","x":350,"lo":1.42,"hi":1.66},{"s":"Sanction (no review)","x":400,"lo":1.42,"hi":1.66},{"s":"Sanction (no review)","x":445,"lo":1.22,"hi":1.62},{"s":"Sanction (no review)","x":460,"lo":1.4,"hi":1.64},{"s":"Sanction (no review)","x":500,"lo":1.4,"hi":1.63},{"s":"Sanction (no review)","x":537,"lo":1.35,"hi":1.65},{"s":"Sanction (no review)","x":550,"lo":1.42,"hi":1.68},{"s":"Sanction (no review)","x":600,"lo":1.42,"hi":1.68},{"s":"Sanction (no review)","x":650,"lo":1.42,"hi":1.66},{"s":"Sanction (no review)","x":700,"lo":1.4,"hi":1.65},{"s":"Sanction (no review)","x":750,"lo":1.42,"hi":1.67},{"s":"Sanction (no review)","x":785,"lo":1.38,"hi":1.62},{"s":"Sanction (no review)","x":800,"lo":0.95,"hi":1.8},{"s":"Sanction (no review)","x":815,"lo":1.3,"hi":1.62},{"s":"Sanction (no review)","x":850,"lo":1.36,"hi":1.62},{"s":"Sanction (no review)","x":888,"lo":1.15,"hi":1.55},{"s":"Sanction (no review)","x":920,"lo":1.25,"hi":1.58},{"s":"Sanction (no review)","x":950,"lo":1.2,"hi":1.58},{"s":"Sanction (no review)","x":982,"lo":0.85,"hi":1.48},{"s":"Sanction (no review)","x":1000,"lo":1.1,"hi":1.55},{"s":"Sanction (no review)","x":1030,"lo":1.25,"hi":1.55},{"s":"Sanction (no review)","x":1070,"lo":1.22,"hi":1.62},{"s":"Sanction (no review)","x":1090,"lo":0.6,"hi":1.73},{"s":"Sanction (no review)","x":1103,"lo":0.55,"hi":1.72},{"s":"Sanction (no review)","x":1115,"lo":1.1,"hi":1.6},{"s":"Sanction (no review)","x":1150,"lo":1.12,"hi":1.65},{"s":"Sanction (no review)","x":1200,"lo":1.25,"hi":1.6},{"s":"Sanction (no review)","x":1250,"lo":1.3,"hi":1.6},{"s":"Sanction (no review)","x":1300,"lo":1.28,"hi":1.58},{"s":"Sanction (no review)","x":1340,"lo":1.2,"hi":1.62},{"s":"Sanction (no review)","x":1380,"lo":0.8,"hi":1.6},{"s":"Sanction (no review)","x":1420,"lo":0.6,"hi":1.62},{"s":"Sanction (no review)","x":1460,"lo":0.55,"hi":1.6},{"s":"Sanction (no review)","x":1490,"lo":1.0,"hi":1.58},{"s":"Sanction (no review)","x":1520,"lo":1.2,"hi":1.55},{"s":"Sanction (no review)","x":1600,"lo":1.22,"hi":1.52},{"s":"Sanction (no review)","x":1650,"lo":1.22,"hi":1.55},{"s":"Sanction (no review)","x":1697,"lo":1.05,"hi":1.52},{"s":"Sanction (no review)","x":1720,"lo":1.2,"hi":1.58},{"s":"Sanction (no review)","x":1750,"lo":1.15,"hi":1.62},{"s":"Sanction (no review)","x":1770,"lo":0.8,"hi":1.6},{"s":"Sanction (no review)","x":1800,"lo":0.62,"hi":1.55},{"s":"Sanction (no review)","x":1850,"lo":0.62,"hi":1.55},{"s":"Sanction (no review)","x":1890,"lo":0.6,"hi":1.58},{"s":"Sanction (no review)","x":1906,"lo":0.2,"hi":1.56},{"s":"Sanction (no review)","x":1925,"lo":0.75,"hi":1.65},{"s":"Sanction (no review)","x":1950,"lo":1.0,"hi":1.62},{"s":"Sanction (no review)","x":2000,"lo":1.02,"hi":1.45},

      {"s":"High Review (p=0.8)","x":0,"lo":2.19,"hi":2.21},{"s":"High Review (p=0.8)","x":12,"lo":1.85,"hi":2.15},{"s":"High Review (p=0.8)","x":25,"lo":1.3,"hi":1.8},{"s":"High Review (p=0.8)","x":37,"lo":1.25,"hi":1.72},{"s":"High Review (p=0.8)","x":50,"lo":1.38,"hi":1.7},{"s":"High Review (p=0.8)","x":82,"lo":1.2,"hi":1.62},{"s":"High Review (p=0.8)","x":100,"lo":1.38,"hi":1.64},{"s":"High Review (p=0.8)","x":150,"lo":1.48,"hi":1.72},{"s":"High Review (p=0.8)","x":200,"lo":1.5,"hi":1.74},{"s":"High Review (p=0.8)","x":250,"lo":1.5,"hi":1.72},{"s":"High Review (p=0.8)","x":290,"lo":1.5,"hi":1.72},{"s":"High Review (p=0.8)","x":306,"lo":1.05,"hi":1.87},{"s":"High Review (p=0.8)","x":320,"lo":1.4,"hi":1.75},{"s":"High Review (p=0.8)","x":340,"lo":0.9,"hi":1.95},{"s":"High Review (p=0.8)","x":360,"lo":0.65,"hi":1.98},{"s":"High Review (p=0.8)","x":380,"lo":0.6,"hi":1.99},{"s":"High Review (p=0.8)","x":400,"lo":0.75,"hi":1.9},{"s":"High Review (p=0.8)","x":415,"lo":1.2,"hi":1.78},{"s":"High Review (p=0.8)","x":450,"lo":1.5,"hi":1.75},{"s":"High Review (p=0.8)","x":500,"lo":1.48,"hi":1.72},{"s":"High Review (p=0.8)","x":530,"lo":1.2,"hi":1.75},{"s":"High Review (p=0.8)","x":550,"lo":0.75,"hi":1.9},{"s":"High Review (p=0.8)","x":570,"lo":0.6,"hi":1.95},{"s":"High Review (p=0.8)","x":590,"lo":0.85,"hi":1.93},{"s":"High Review (p=0.8)","x":610,"lo":1.35,"hi":1.75},{"s":"High Review (p=0.8)","x":650,"lo":1.46,"hi":1.68},{"s":"High Review (p=0.8)","x":700,"lo":1.48,"hi":1.72},{"s":"High Review (p=0.8)","x":750,"lo":1.5,"hi":1.74},{"s":"High Review (p=0.8)","x":780,"lo":1.4,"hi":1.75},{"s":"High Review (p=0.8)","x":800,"lo":0.95,"hi":1.9},{"s":"High Review (p=0.8)","x":815,"lo":0.8,"hi":1.98},{"s":"High Review (p=0.8)","x":830,"lo":1.05,"hi":1.85},{"s":"High Review (p=0.8)","x":850,"lo":1.36,"hi":1.66},{"s":"High Review (p=0.8)","x":900,"lo":1.42,"hi":1.7},{"s":"High Review (p=0.8)","x":950,"lo":1.42,"hi":1.68},{"s":"High Review (p=0.8)","x":1000,"lo":1.42,"hi":1.68},{"s":"High Review (p=0.8)","x":1050,"lo":1.45,"hi":1.68},{"s":"High Review (p=0.8)","x":1100,"lo":1.44,"hi":1.67},{"s":"High Review (p=0.8)","x":1150,"lo":1.44,"hi":1.67},{"s":"High Review (p=0.8)","x":1200,"lo":1.38,"hi":1.62},{"s":"High Review (p=0.8)","x":1250,"lo":1.36,"hi":1.6},{"s":"High Review (p=0.8)","x":1300,"lo":1.38,"hi":1.62},{"s":"High Review (p=0.8)","x":1350,"lo":1.36,"hi":1.6},{"s":"High Review (p=0.8)","x":1400,"lo":1.34,"hi":1.58},{"s":"High Review (p=0.8)","x":1450,"lo":1.32,"hi":1.56},{"s":"High Review (p=0.8)","x":1500,"lo":1.35,"hi":1.6},{"s":"High Review (p=0.8)","x":1550,"lo":1.38,"hi":1.65},{"s":"High Review (p=0.8)","x":1600,"lo":1.36,"hi":1.62},{"s":"High Review (p=0.8)","x":1650,"lo":1.25,"hi":1.6},{"s":"High Review (p=0.8)","x":1656,"lo":1.1,"hi":1.58},{"s":"High Review (p=0.8)","x":1670,"lo":1.3,"hi":1.58},{"s":"High Review (p=0.8)","x":1700,"lo":1.25,"hi":1.65},{"s":"High Review (p=0.8)","x":1715,"lo":0.8,"hi":1.78},{"s":"High Review (p=0.8)","x":1734,"lo":0.55,"hi":1.8},{"s":"High Review (p=0.8)","x":1750,"lo":0.9,"hi":1.75},{"s":"High Review (p=0.8)","x":1780,"lo":1.15,"hi":1.7},{"s":"High Review (p=0.8)","x":1800,"lo":0.7,"hi":1.78},{"s":"High Review (p=0.8)","x":1830,"lo":0.55,"hi":1.8},{"s":"High Review (p=0.8)","x":1860,"lo":0.55,"hi":1.82},{"s":"High Review (p=0.8)","x":1900,"lo":0.6,"hi":1.85},{"s":"High Review (p=0.8)","x":1950,"lo":0.85,"hi":1.65},{"s":"High Review (p=0.8)","x":1980,"lo":0.7,"hi":1.5},{"s":"High Review (p=0.8)","x":2000,"lo":0.65,"hi":1.48},

      {"s":"IML (Full)","x":0,"lo":2.19,"hi":2.21},{"s":"IML (Full)","x":12,"lo":1.85,"hi":2.15},{"s":"IML (Full)","x":25,"lo":1.3,"hi":1.8},{"s":"IML (Full)","x":37,"lo":1.1,"hi":1.62},{"s":"IML (Full)","x":50,"lo":1.2,"hi":1.65},{"s":"IML (Full)","x":75,"lo":1.4,"hi":1.68},{"s":"IML (Full)","x":100,"lo":1.4,"hi":1.58},{"s":"IML (Full)","x":150,"lo":1.47,"hi":1.65},{"s":"IML (Full)","x":200,"lo":1.5,"hi":1.68},{"s":"IML (Full)","x":250,"lo":1.49,"hi":1.66},{"s":"IML (Full)","x":300,"lo":1.52,"hi":1.68},{"s":"IML (Full)","x":350,"lo":1.49,"hi":1.64},{"s":"IML (Full)","x":400,"lo":1.48,"hi":1.64},{"s":"IML (Full)","x":450,"lo":1.5,"hi":1.66},{"s":"IML (Full)","x":500,"lo":1.49,"hi":1.65},{"s":"IML (Full)","x":550,"lo":1.48,"hi":1.64},{"s":"IML (Full)","x":600,"lo":1.45,"hi":1.61},{"s":"IML (Full)","x":650,"lo":1.47,"hi":1.63},{"s":"IML (Full)","x":700,"lo":1.45,"hi":1.6},{"s":"IML (Full)","x":750,"lo":1.46,"hi":1.62},{"s":"IML (Full)","x":800,"lo":1.43,"hi":1.59},{"s":"IML (Full)","x":850,"lo":1.45,"hi":1.61},{"s":"IML (Full)","x":900,"lo":1.39,"hi":1.54},{"s":"IML (Full)","x":950,"lo":1.41,"hi":1.57},{"s":"IML (Full)","x":1000,"lo":1.36,"hi":1.52},{"s":"IML (Full)","x":1050,"lo":1.34,"hi":1.5},{"s":"IML (Full)","x":1100,"lo":1.37,"hi":1.53},{"s":"IML (Full)","x":1150,"lo":1.33,"hi":1.49},{"s":"IML (Full)","x":1200,"lo":1.3,"hi":1.46},{"s":"IML (Full)","x":1250,"lo":1.37,"hi":1.55},{"s":"IML (Full)","x":1300,"lo":1.34,"hi":1.51},{"s":"IML (Full)","x":1350,"lo":1.31,"hi":1.48},{"s":"IML (Full)","x":1400,"lo":1.3,"hi":1.47},{"s":"IML (Full)","x":1450,"lo":1.29,"hi":1.46},{"s":"IML (Full)","x":1500,"lo":1.26,"hi":1.42},{"s":"IML (Full)","x":1550,"lo":1.27,"hi":1.45},{"s":"IML (Full)","x":1600,"lo":1.31,"hi":1.48},{"s":"IML (Full)","x":1650,"lo":1.29,"hi":1.46},{"s":"IML (Full)","x":1700,"lo":1.34,"hi":1.52},{"s":"IML (Full)","x":1750,"lo":1.26,"hi":1.43},{"s":"IML (Full)","x":1800,"lo":1.26,"hi":1.42},{"s":"IML (Full)","x":1850,"lo":1.23,"hi":1.4},{"s":"IML (Full)","x":1900,"lo":1.23,"hi":1.42},{"s":"IML (Full)","x":1925,"lo":1.05,"hi":1.38},{"s":"IML (Full)","x":1941,"lo":0.92,"hi":1.3},{"s":"IML (Full)","x":1960,"lo":1.1,"hi":1.42},{"s":"IML (Full)","x":2000,"lo":1.2,"hi":1.42}
    ]
  },
  "layer": [
    {
      "data": {"name": "bands"},
      "mark": {"type": "area", "opacity": 0.12},
      "encoding": {
        "x": {"field": "x", "type": "quantitative", "scale": {"domain": [-100, 2100], "nice": false, "zero": false},
          "axis": {"title": "Training Steps", "values": [0, 250, 500, 750, 1000, 1250, 1500, 1750, 2000],
            "labelExpr": "datum.value == 0 ? '0K' : datum.value == 250 ? '250K' : datum.value == 500 ? '500K' : datum.value == 750 ? '750K' : datum.value == 1000 ? '1.0M' : datum.value == 1250 ? '1.2M' : datum.value == 1500 ? '1.5M' : datum.value == 1750 ? '1.8M' : '2.0M'",
            "labelPadding": 22, "titlePadding": 30, "grid": true, "labelFlush": false}},
        "y": {"field": "lo", "type": "quantitative", "scale": {"domain": [-0.255, 2.311], "nice": false, "zero": false},
          "axis": {"title": "Policy Entropy", "values": [0, 0.5, 1, 1.5, 2], "format": ".1f", "labelPadding": 25, "titlePadding": 26, "grid": true}},
        "y2": {"field": "hi"},
        "color": {"field": "s", "type": "nominal",
          "scale": {"domain": ["Baseline (PPO)", "Inequity Aversion", "Social Influence", "Monitor Only", "Sanction (no review)", "High Review (p=0.8)", "IML (Full)"],
            "range": ["#979797", "#df8a26", "#1fa077", "#aaaaaa", "#7776ee", "#ee5a9f", "#3d74e6"]},
          "legend": {"title": null, "orient": "none", "legendX": 1665, "legendY": 23, "columns": 2, "columnPadding": 74, "rowPadding": 24,
            "symbolType": "M-1,0H9", "symbolSize": 467, "symbolStrokeWidth": 8, "symbolOpacity": 1, "symbolFillColor": "transparent", "labelOffset": 90, "labelLimit": 0,
            "padding": 17, "fillColor": "rgba(255,255,255,0.8)", "strokeColor": "#cccccc", "cornerRadius": 12}}
      }
    },
    {
      "data": {"name": "lines"},
      "mark": {"type": "line", "strokeWidth": 8, "strokeJoin": "round", "strokeCap": "round"},
      "encoding": {
        "x": {"field": "x", "type": "quantitative"},
        "y": {"field": "y", "type": "quantitative"},
        "color": {"field": "s", "type": "nominal",
          "legend": {"title": null, "orient": "none", "legendX": 1665, "legendY": 23, "columns": 2, "columnPadding": 74, "rowPadding": 24,
            "symbolType": "M-1,0H9", "symbolSize": 467, "symbolStrokeWidth": 8, "symbolOpacity": 1, "symbolFillColor": "transparent", "labelOffset": 90, "labelLimit": 0,
            "padding": 17, "fillColor": "rgba(255,255,255,0.8)", "strokeColor": "#cccccc", "cornerRadius": 12}}
      }
    }
  ]
}
